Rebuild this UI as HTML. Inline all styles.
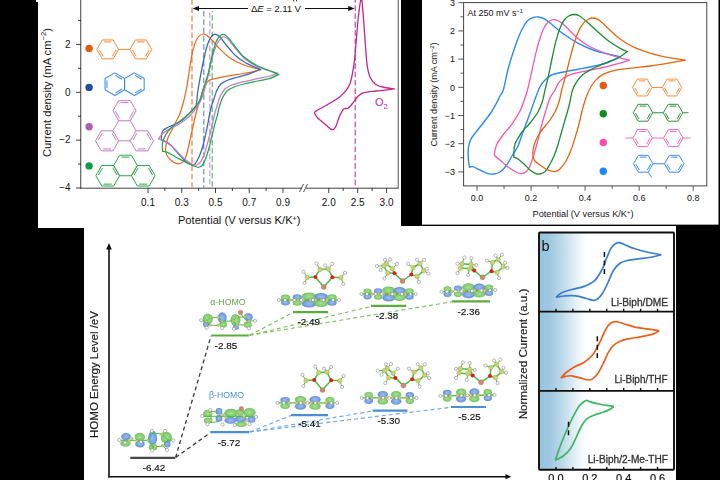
<!DOCTYPE html>
<html><head><meta charset="utf-8"><title>figure</title>
<style>
html,body{margin:0;padding:0;background:#000;}
body{width:720px;height:480px;overflow:hidden;}
svg{display:block;font-family:"Liberation Sans",sans-serif;}
</style></head><body>
<svg width="720" height="480" viewBox="0 0 720 480">
<defs>
<clipPath id="cTL"><rect x="36" y="0" width="365" height="228"/></clipPath>
<linearGradient id="gradb" x1="0" x2="1" y1="0" y2="0">
<stop offset="0" stop-color="#94C2DD"/><stop offset="0.08" stop-color="#9FC9E1"/><stop offset="0.18" stop-color="#C0DBEB"/><stop offset="0.27" stop-color="#E4F0F7"/><stop offset="0.35" stop-color="#ffffff"/><stop offset="1" stop-color="#ffffff"/>
</linearGradient>
<radialGradient id="gG" cx="0.5" cy="0.5" r="0.5"><stop offset="0" stop-color="#A4DE92"/><stop offset="0.6" stop-color="#84CE6E"/><stop offset="1" stop-color="#68BF52"/></radialGradient>
<radialGradient id="gB" cx="0.5" cy="0.5" r="0.5"><stop offset="0" stop-color="#98BCF0"/><stop offset="0.6" stop-color="#769FE2"/><stop offset="1" stop-color="#5C88D2"/></radialGradient>
<filter id="soft" x="-5%" y="-5%" width="110%" height="110%"><feGaussianBlur stdDeviation="0.45"/></filter>
<filter id="soft2" x="-5%" y="-5%" width="110%" height="110%"><feGaussianBlur stdDeviation="0.3"/></filter>
</defs>
<rect x="0" y="0" width="720" height="480" fill="#000"/>
<rect x="36" y="0" width="365" height="2" fill="#fff"/>
<rect x="38" y="0" width="363" height="228" fill="#fff"/>
<rect x="422" y="0" width="296.7" height="224.8" fill="#fff"/>
<rect x="84" y="226" width="592" height="254" fill="#fff"/>
<rect x="84" y="225.8" width="317" height="3" fill="#fff"/>
<g clip-path="url(#cTL)"><line x1="80.75" y1="0.00" x2="80.75" y2="188.60" stroke="#2a2a2a" stroke-width="0.9" />
<line x1="80.30" y1="188.20" x2="302.00" y2="188.20" stroke="#2a2a2a" stroke-width="0.9" />
<line x1="306.00" y1="188.20" x2="398.50" y2="188.20" stroke="#2a2a2a" stroke-width="0.9" />
<line x1="398.20" y1="0.00" x2="398.20" y2="188.40" stroke="#555" stroke-width="1.0" />
<line x1="299.50" y1="192.00" x2="303.50" y2="184.00" stroke="#2a2a2a" stroke-width="0.8" />
<line x1="303.50" y1="192.00" x2="307.50" y2="184.00" stroke="#2a2a2a" stroke-width="0.8" />
<line x1="76.00" y1="188.02" x2="81.00" y2="188.02" stroke="#2a2a2a" stroke-width="0.9" />
<text x="70.60" y="191.32" font-size="10" fill="#141414" text-anchor="end" >−4</text>
<line x1="78.00" y1="164.09" x2="81.00" y2="164.09" stroke="#2a2a2a" stroke-width="0.9" />
<line x1="76.00" y1="140.16" x2="81.00" y2="140.16" stroke="#2a2a2a" stroke-width="0.9" />
<text x="70.60" y="143.46" font-size="10" fill="#141414" text-anchor="end" >−2</text>
<line x1="78.00" y1="116.23" x2="81.00" y2="116.23" stroke="#2a2a2a" stroke-width="0.9" />
<line x1="76.00" y1="92.30" x2="81.00" y2="92.30" stroke="#2a2a2a" stroke-width="0.9" />
<text x="70.60" y="95.60" font-size="10" fill="#141414" text-anchor="end" >0</text>
<line x1="78.00" y1="68.37" x2="81.00" y2="68.37" stroke="#2a2a2a" stroke-width="0.9" />
<line x1="76.00" y1="44.44" x2="81.00" y2="44.44" stroke="#2a2a2a" stroke-width="0.9" />
<text x="70.60" y="47.74" font-size="10" fill="#141414" text-anchor="end" >2</text>
<line x1="78.00" y1="20.51" x2="81.00" y2="20.51" stroke="#2a2a2a" stroke-width="0.9" />
<line x1="148.00" y1="188.00" x2="148.00" y2="193.00" stroke="#2a2a2a" stroke-width="0.9" />
<text x="148.00" y="206.00" font-size="10" fill="#141414" text-anchor="middle" >0.1</text>
<line x1="164.88" y1="188.00" x2="164.88" y2="191.00" stroke="#2a2a2a" stroke-width="0.9" />
<line x1="181.75" y1="188.00" x2="181.75" y2="193.00" stroke="#2a2a2a" stroke-width="0.9" />
<text x="181.75" y="206.00" font-size="10" fill="#141414" text-anchor="middle" >0.3</text>
<line x1="198.62" y1="188.00" x2="198.62" y2="191.00" stroke="#2a2a2a" stroke-width="0.9" />
<line x1="215.50" y1="188.00" x2="215.50" y2="193.00" stroke="#2a2a2a" stroke-width="0.9" />
<text x="215.50" y="206.00" font-size="10" fill="#141414" text-anchor="middle" >0.5</text>
<line x1="232.38" y1="188.00" x2="232.38" y2="191.00" stroke="#2a2a2a" stroke-width="0.9" />
<line x1="249.25" y1="188.00" x2="249.25" y2="193.00" stroke="#2a2a2a" stroke-width="0.9" />
<text x="249.25" y="206.00" font-size="10" fill="#141414" text-anchor="middle" >0.7</text>
<line x1="266.12" y1="188.00" x2="266.12" y2="191.00" stroke="#2a2a2a" stroke-width="0.9" />
<line x1="283.00" y1="188.00" x2="283.00" y2="193.00" stroke="#2a2a2a" stroke-width="0.9" />
<text x="283.00" y="206.00" font-size="10" fill="#141414" text-anchor="middle" >0.9</text>
<line x1="328.75" y1="188.00" x2="328.75" y2="193.00" stroke="#2a2a2a" stroke-width="0.9" />
<text x="328.75" y="206.00" font-size="10" fill="#141414" text-anchor="middle" >2.0</text>
<line x1="357.65" y1="188.00" x2="357.65" y2="193.00" stroke="#2a2a2a" stroke-width="0.9" />
<text x="357.65" y="206.00" font-size="10" fill="#141414" text-anchor="middle" >2.5</text>
<line x1="386.55" y1="188.00" x2="386.55" y2="193.00" stroke="#2a2a2a" stroke-width="0.9" />
<text x="386.55" y="206.00" font-size="10" fill="#141414" text-anchor="middle" >3.0</text>
<line x1="343.20" y1="188.00" x2="343.20" y2="191.00" stroke="#2a2a2a" stroke-width="0.9" />
<line x1="372.10" y1="188.00" x2="372.10" y2="191.00" stroke="#2a2a2a" stroke-width="0.9" />
<text x="239.20" y="224.00" font-size="11" fill="#141414" text-anchor="middle" textLength="122.5" lengthAdjust="spacingAndGlyphs" >Potential (V versus K/K<tspan font-size="7" dy="-3.5">+</tspan><tspan dy="3.5">)</tspan></text>
<text x="51.00" y="92.60" font-size="11" fill="#141414" text-anchor="middle" transform="rotate(-90 51.00 92.60)" textLength="129.0" lengthAdjust="spacingAndGlyphs" >Current density (mA cm<tspan font-size="7.5" dy="-4.6">−2</tspan><tspan dy="4.6">)</tspan></text>
<line x1="192.00" y1="0.00" x2="192.00" y2="188.00" stroke="#F0702C" stroke-width="1.1" stroke-dasharray="5.6,2.71" stroke-dashoffset="0.81"/>
<line x1="203.80" y1="11.00" x2="203.80" y2="188.00" stroke="#5C84CC" stroke-width="1.1" stroke-dasharray="5.6,2.71" stroke-dashoffset="0"/>
<line x1="209.80" y1="11.00" x2="209.80" y2="188.00" stroke="#CB92CE" stroke-width="1.1" stroke-dasharray="5.6,2.71" stroke-dashoffset="6.81"/>
<line x1="212.20" y1="11.00" x2="212.20" y2="188.00" stroke="#4CB46E" stroke-width="1.1" stroke-dasharray="5.6,2.71" stroke-dashoffset="4.25"/>
<line x1="355.20" y1="0.00" x2="355.20" y2="188.00" stroke="#C83494" stroke-width="1.1" stroke-dasharray="5.6,2.71" stroke-dashoffset="3.12"/>
<line x1="195.00" y1="8.50" x2="248.00" y2="8.50" stroke="#111" stroke-width="1.0" />
<line x1="305.00" y1="8.50" x2="352.00" y2="8.50" stroke="#111" stroke-width="1.0" />
<path d="M192.6,8.5 L199,6 L199,11 Z" fill="#111"/>
<path d="M354.6,8.5 L348.2,6 L348.2,11 Z" fill="#111"/>
<text x="251" y="12" font-size="9.7" fill="#141414" textLength="50" lengthAdjust="spacing">Δ<tspan font-style="italic">E</tspan> = 2.11 V</text>
<rect x="293" y="0" width="1.2" height="1.3" fill="#444"/><rect x="296" y="0" width="1.2" height="1.3" fill="#444"/>
<path d="M261.00,69.60C259.17,70.07 253.83,71.60 250.00,72.40C246.17,73.20 242.00,73.73 238.00,74.40C234.00,75.07 229.67,75.73 226.00,76.40C222.33,77.07 218.67,77.80 216.00,78.40C213.33,79.00 211.67,79.13 210.00,80.00C208.33,80.87 207.17,81.93 206.00,83.60C204.83,85.27 204.00,87.27 203.00,90.00C202.00,92.73 200.83,97.33 200.00,100.00C199.17,102.67 198.73,103.50 198.00,106.00C197.27,108.50 196.52,111.21 195.60,115.00C194.68,118.79 193.43,124.58 192.50,128.75C191.57,132.92 190.83,136.25 190.00,140.00C189.17,143.75 188.23,148.33 187.50,151.25C186.77,154.17 186.33,155.72 185.60,157.50C184.87,159.28 184.13,160.86 183.10,161.90C182.07,162.94 180.65,163.55 179.40,163.75C178.15,163.95 176.96,163.62 175.60,163.10C174.24,162.57 172.60,161.74 171.25,160.60C169.90,159.46 168.44,157.81 167.50,156.25C166.56,154.69 165.85,153.12 165.60,151.25C165.35,149.38 165.58,147.29 166.00,145.00C166.42,142.71 167.12,140.00 168.10,137.50C169.08,135.00 170.54,132.71 171.90,130.00C173.26,127.29 175.00,123.75 176.25,121.25C177.50,118.75 178.49,117.21 179.40,115.00C180.31,112.79 180.93,110.50 181.70,108.00C182.47,105.50 183.12,103.67 184.00,100.00C184.88,96.33 186.00,91.67 187.00,86.00C188.00,80.33 189.00,72.00 190.00,66.00C191.00,60.00 191.83,54.50 193.00,50.00C194.17,45.50 195.33,41.67 197.00,39.00C198.67,36.33 200.83,34.17 203.00,34.00C205.17,33.83 207.50,35.83 210.00,38.00C212.50,40.17 214.67,43.67 218.00,47.00C221.33,50.33 225.67,55.00 230.00,58.00C234.33,61.00 238.83,63.07 244.00,65.00C249.17,66.93 258.17,68.83 261.00,69.60Z" fill="none" stroke="#EE6A1C" stroke-width="1.25" stroke-linejoin="miter" stroke-miterlimit="2.5" stroke-linecap="round" />
<path d="M260.00,69.40C258.33,70.10 253.67,72.33 250.00,73.60C246.33,74.87 241.67,75.93 238.00,77.00C234.33,78.07 230.83,78.83 228.00,80.00C225.17,81.17 222.83,82.33 221.00,84.00C219.17,85.67 218.23,87.33 217.00,90.00C215.77,92.67 214.52,97.33 213.60,100.00C212.68,102.67 212.20,103.50 211.50,106.00C210.80,108.50 209.97,112.25 209.40,115.00C208.83,117.75 208.83,118.75 208.10,122.50C207.37,126.25 206.14,132.71 205.00,137.50C203.86,142.29 202.50,147.50 201.25,151.25C200.00,155.00 198.64,157.81 197.50,160.00C196.36,162.19 195.44,163.61 194.40,164.40C193.36,165.19 192.61,165.17 191.25,164.75C189.89,164.33 187.92,163.21 186.25,161.90C184.58,160.59 182.92,158.68 181.25,156.90C179.58,155.12 177.92,153.13 176.25,151.25C174.58,149.37 172.92,147.16 171.25,145.60C169.58,144.04 167.81,142.83 166.25,141.90C164.69,140.97 162.73,140.63 161.90,140.00C161.07,139.37 161.36,138.42 161.25,138.10C161.46,136.96 161.46,133.02 162.50,131.25C163.54,129.48 165.42,128.64 167.50,127.50C169.58,126.36 172.50,125.65 175.00,124.40C177.50,123.15 180.42,121.57 182.50,120.00C184.58,118.43 185.92,116.58 187.50,115.00C189.08,113.42 190.58,112.00 192.00,110.50C193.42,109.00 195.00,109.42 196.00,106.00C197.00,102.58 196.93,96.67 198.00,90.00C199.07,83.33 200.90,73.33 202.40,66.00C203.90,58.67 205.57,50.83 207.00,46.00C208.43,41.17 209.67,39.00 211.00,37.00C212.33,35.00 213.50,34.00 215.00,34.00C216.50,34.00 218.00,35.00 220.00,37.00C222.00,39.00 224.33,42.83 227.00,46.00C229.67,49.17 232.83,53.17 236.00,56.00C239.17,58.83 242.00,60.77 246.00,63.00C250.00,65.23 257.67,68.33 260.00,69.40Z" fill="none" stroke="#3A66B8" stroke-width="1.25" stroke-linejoin="miter" stroke-miterlimit="2.5" stroke-linecap="round" />
<path d="M278.00,73.20C276.67,73.67 273.33,75.10 270.00,76.00C266.67,76.90 262.33,77.67 258.00,78.60C253.67,79.53 248.33,80.53 244.00,81.60C239.67,82.67 235.17,83.77 232.00,85.00C228.83,86.23 226.93,87.17 225.00,89.00C223.07,90.83 221.73,93.17 220.40,96.00C219.07,98.83 218.00,102.83 217.00,106.00C216.00,109.17 215.25,111.62 214.40,115.00C213.55,118.38 212.95,121.88 211.90,126.25C210.85,130.62 209.35,136.67 208.10,141.25C206.85,145.83 205.65,150.31 204.40,153.75C203.15,157.19 201.85,160.03 200.60,161.90C199.35,163.78 198.25,164.58 196.90,165.00C195.55,165.42 194.07,165.03 192.50,164.40C190.93,163.78 189.17,162.50 187.50,161.25C185.83,160.00 184.17,158.46 182.50,156.90C180.83,155.34 179.17,153.57 177.50,151.90C175.83,150.23 174.17,148.37 172.50,146.90C170.83,145.43 169.17,144.15 167.50,143.10C165.83,142.05 164.00,141.32 162.50,140.60C161.00,139.88 159.17,139.06 158.50,138.75C159.17,137.92 160.79,135.31 162.50,133.75C164.21,132.19 166.25,130.86 168.75,129.40C171.25,127.94 174.79,126.57 177.50,125.00C180.21,123.43 182.82,121.67 185.00,120.00C187.18,118.33 189.10,116.50 190.60,115.00C192.10,113.50 192.93,112.33 194.00,111.00C195.07,109.67 195.83,108.83 197.00,107.00C198.17,105.17 199.67,103.17 201.00,100.00C202.33,96.83 203.67,92.67 205.00,88.00C206.33,83.33 207.67,77.50 209.00,72.00C210.33,66.50 211.67,59.67 213.00,55.00C214.33,50.33 215.67,46.75 217.00,44.00C218.33,41.25 219.83,39.67 221.00,38.50C222.17,37.33 222.83,36.92 224.00,37.00C225.17,37.08 226.33,37.42 228.00,39.00C229.67,40.58 231.33,43.33 234.00,46.50C236.67,49.67 240.00,54.58 244.00,58.00C248.00,61.42 253.67,64.83 258.00,67.00C262.33,69.17 266.67,69.97 270.00,71.00C273.33,72.03 276.67,72.83 278.00,73.20Z" fill="none" stroke="#C27FC4" stroke-width="1.25" stroke-linejoin="miter" stroke-miterlimit="2.5" stroke-linecap="round" />
<path d="M278.50,74.60C277.08,75.23 273.42,77.33 270.00,78.40C266.58,79.47 262.33,80.07 258.00,81.00C253.67,81.93 248.00,83.00 244.00,84.00C240.00,85.00 236.83,85.83 234.00,87.00C231.17,88.17 228.93,89.17 227.00,91.00C225.07,92.83 223.73,95.17 222.40,98.00C221.07,100.83 219.82,105.17 219.00,108.00C218.18,110.83 218.07,112.79 217.50,115.00C216.93,117.21 216.43,118.12 215.60,121.25C214.77,124.38 213.64,129.17 212.50,133.75C211.36,138.33 209.90,144.58 208.75,148.75C207.60,152.92 206.64,156.04 205.60,158.75C204.56,161.46 203.64,163.58 202.50,165.00C201.36,166.42 200.21,167.08 198.75,167.25C197.29,167.42 195.62,166.69 193.75,166.00C191.88,165.31 189.79,164.20 187.50,163.10C185.21,162.00 182.50,160.75 180.00,159.40C177.50,158.05 174.79,156.27 172.50,155.00C170.21,153.73 167.90,152.42 166.25,151.80C164.60,151.18 163.21,151.38 162.60,151.30C162.58,150.04 162.20,146.05 162.50,143.75C162.80,141.45 163.47,139.58 164.40,137.50C165.33,135.42 166.54,133.23 168.10,131.25C169.66,129.27 171.56,127.47 173.75,125.60C175.94,123.72 178.96,121.77 181.25,120.00C183.54,118.23 185.79,116.50 187.50,115.00C189.21,113.50 190.25,112.33 191.50,111.00C192.75,109.67 193.58,108.83 195.00,107.00C196.42,105.17 198.67,102.83 200.00,100.00C201.33,97.17 201.67,94.33 203.00,90.00C204.33,85.67 206.50,79.67 208.00,74.00C209.50,68.33 210.67,61.33 212.00,56.00C213.33,50.67 214.67,45.33 216.00,42.00C217.33,38.67 218.83,37.27 220.00,36.00C221.17,34.73 221.83,34.33 223.00,34.40C224.17,34.47 225.17,34.63 227.00,36.40C228.83,38.17 231.17,41.57 234.00,45.00C236.83,48.43 240.00,53.50 244.00,57.00C248.00,60.50 253.33,63.57 258.00,66.00C262.67,68.43 268.58,70.17 272.00,71.60C275.42,73.03 277.42,74.10 278.50,74.60Z" fill="none" stroke="#27A455" stroke-width="1.25" stroke-linejoin="miter" stroke-miterlimit="2.5" stroke-linecap="round" />
<path d="M394.80,88.80C393.08,88.58 387.67,88.22 384.50,87.50C381.33,86.78 378.22,86.25 375.80,84.50C373.38,82.75 371.47,80.42 370.00,77.00C368.53,73.58 367.88,71.00 367.00,64.00C366.12,57.00 365.42,44.22 364.70,35.00C363.98,25.78 363.28,14.87 362.70,8.70C362.12,2.53 361.93,-3.47 361.20,-2.00C360.47,-0.53 359.17,9.88 358.30,17.50C357.43,25.12 356.72,35.95 356.00,43.70C355.28,51.45 355.07,57.18 354.00,64.00C352.93,70.82 351.80,79.27 349.60,84.60C347.40,89.93 344.73,92.52 340.80,96.00C336.87,99.48 329.88,103.13 326.00,105.50C322.12,107.87 319.38,109.08 317.50,110.20C315.62,111.32 315.07,111.47 314.70,112.20C314.33,112.93 314.78,113.63 315.30,114.60C315.82,115.57 316.02,116.27 317.80,118.00C319.58,119.73 323.63,123.05 326.00,125.00C328.37,126.95 330.40,129.37 332.00,129.70C333.60,130.03 334.37,129.18 335.60,127.00C336.83,124.82 338.05,119.60 339.40,116.60C340.75,113.60 342.27,110.38 343.70,109.00C345.13,107.62 346.53,109.22 348.00,108.30C349.47,107.38 350.78,105.55 352.50,103.50C354.22,101.45 356.38,97.80 358.30,96.00C360.22,94.20 361.08,93.53 364.00,92.70C366.92,91.87 371.88,91.48 375.80,91.00C379.72,90.52 384.33,90.17 387.50,89.80C390.67,89.43 393.58,88.97 394.80,88.80Z" fill="none" stroke="#C4268E" stroke-width="1.3" stroke-linejoin="miter" stroke-miterlimit="2.5" stroke-linecap="round" />
<text x="375.00" y="106.00" font-size="11" fill="#C4268E" text-anchor="start" >O<tspan font-size="7.5" dy="2.5">2</tspan></text>
<circle cx="89.10" cy="48.40" r="3.70" fill="#E8590C"/>
<circle cx="89.10" cy="87.40" r="3.70" fill="#1F4E9C"/>
<circle cx="89.10" cy="126.70" r="3.70" fill="#B05CB0"/>
<circle cx="89.10" cy="165.90" r="3.70" fill="#109B47"/>
<path d="M118.60,49.40L113.15,58.84L102.25,58.84L96.80,49.40L102.25,39.96L113.15,39.96Z" fill="none" stroke="#F58A33" stroke-width="1.0" stroke-linejoin="round"/>
<line x1="116.08" y1="49.96" x2="112.38" y2="56.38" stroke="#F58A33" stroke-width="1.0" />
<line x1="103.02" y1="56.38" x2="99.32" y2="49.96" stroke="#F58A33" stroke-width="1.0" />
<line x1="103.99" y1="41.86" x2="111.41" y2="41.86" stroke="#F58A33" stroke-width="1.0" />
<path d="M151.75,49.40L146.30,58.84L135.40,58.84L129.95,49.40L135.40,39.96L146.30,39.96Z" fill="none" stroke="#F58A33" stroke-width="1.0" stroke-linejoin="round"/>
<line x1="149.23" y1="49.96" x2="145.53" y2="56.38" stroke="#F58A33" stroke-width="1.0" />
<line x1="136.17" y1="56.38" x2="132.47" y2="49.96" stroke="#F58A33" stroke-width="1.0" />
<line x1="137.14" y1="41.86" x2="144.56" y2="41.86" stroke="#F58A33" stroke-width="1.0" />
<line x1="118.60" y1="49.40" x2="129.95" y2="49.40" stroke="#F58A33" stroke-width="1.0" />
<path d="M124.60,89.80L114.81,95.45L105.03,89.80L105.03,78.50L114.81,72.85L124.60,78.50Z" fill="none" stroke="#3B8FF5" stroke-width="1.05" stroke-linejoin="round"/>
<line x1="122.08" y1="89.06" x2="115.43" y2="92.90" stroke="#3B8FF5" stroke-width="1.05" />
<line x1="106.93" y1="87.99" x2="106.93" y2="80.31" stroke="#3B8FF5" stroke-width="1.05" />
<line x1="115.43" y1="75.40" x2="122.08" y2="79.24" stroke="#3B8FF5" stroke-width="1.05" />
<path d="M144.17,89.80L134.39,95.45L124.60,89.80L124.60,78.50L134.39,72.85L144.17,78.50Z" fill="none" stroke="#3B8FF5" stroke-width="1.05" stroke-linejoin="round"/>
<line x1="141.66" y1="89.06" x2="135.00" y2="92.90" stroke="#3B8FF5" stroke-width="1.05" />
<line x1="135.00" y1="75.40" x2="141.66" y2="79.24" stroke="#3B8FF5" stroke-width="1.05" />
<path d="M136.10,110.70L130.30,120.75L118.70,120.75L112.90,110.70L118.70,100.65L130.30,100.65Z" fill="none" stroke="#C47CC4" stroke-width="1.0" stroke-linejoin="round"/>
<line x1="133.53" y1="111.36" x2="129.58" y2="118.19" stroke="#C47CC4" stroke-width="1.0" />
<line x1="119.42" y1="118.19" x2="115.47" y2="111.36" stroke="#C47CC4" stroke-width="1.0" />
<line x1="120.56" y1="102.55" x2="128.44" y2="102.55" stroke="#C47CC4" stroke-width="1.0" />
<path d="M118.70,140.84L112.90,150.88L101.30,150.88L95.50,140.84L101.30,130.79L112.90,130.79Z" fill="none" stroke="#C47CC4" stroke-width="1.0" stroke-linejoin="round"/>
<line x1="111.04" y1="148.98" x2="103.16" y2="148.98" stroke="#C47CC4" stroke-width="1.0" />
<line x1="98.07" y1="140.18" x2="102.02" y2="133.35" stroke="#C47CC4" stroke-width="1.0" />
<line x1="112.18" y1="133.35" x2="116.13" y2="140.18" stroke="#C47CC4" stroke-width="1.0" />
<path d="M153.50,140.84L147.70,150.88L136.10,150.88L130.30,140.84L136.10,130.79L147.70,130.79Z" fill="none" stroke="#C47CC4" stroke-width="1.0" stroke-linejoin="round"/>
<line x1="145.84" y1="148.98" x2="137.96" y2="148.98" stroke="#C47CC4" stroke-width="1.0" />
<line x1="132.87" y1="140.18" x2="136.82" y2="133.35" stroke="#C47CC4" stroke-width="1.0" />
<line x1="146.98" y1="133.35" x2="150.93" y2="140.18" stroke="#C47CC4" stroke-width="1.0" />
<line x1="118.70" y1="120.75" x2="112.90" y2="130.79" stroke="#C47CC4" stroke-width="1.0" />
<line x1="130.30" y1="120.75" x2="136.10" y2="130.79" stroke="#C47CC4" stroke-width="1.0" />
<line x1="118.70" y1="140.84" x2="130.30" y2="140.84" stroke="#C47CC4" stroke-width="1.0" />
<path d="M137.35,165.50L131.43,175.76L119.58,175.76L113.65,165.50L119.57,155.24L131.43,155.24Z" fill="none" stroke="#2FA851" stroke-width="1.0" stroke-linejoin="round"/>
<line x1="121.47" y1="157.14" x2="129.53" y2="157.14" stroke="#2FA851" stroke-width="1.0" />
<path d="M119.57,175.76L113.65,186.02L101.80,186.02L95.88,175.76L101.80,165.50L113.65,165.50Z" fill="none" stroke="#2FA851" stroke-width="1.0" stroke-linejoin="round"/>
<line x1="111.75" y1="184.12" x2="103.70" y2="184.12" stroke="#2FA851" stroke-width="1.0" />
<line x1="98.47" y1="175.07" x2="102.50" y2="168.09" stroke="#2FA851" stroke-width="1.0" />
<line x1="112.95" y1="168.09" x2="116.98" y2="175.07" stroke="#2FA851" stroke-width="1.0" />
<path d="M155.12,175.76L149.20,186.02L137.35,186.02L131.43,175.76L137.35,165.50L149.20,165.50Z" fill="none" stroke="#2FA851" stroke-width="1.0" stroke-linejoin="round"/>
<line x1="147.30" y1="184.12" x2="139.25" y2="184.12" stroke="#2FA851" stroke-width="1.0" />
<line x1="134.02" y1="175.07" x2="138.05" y2="168.09" stroke="#2FA851" stroke-width="1.0" />
<line x1="148.50" y1="168.09" x2="152.53" y2="175.07" stroke="#2FA851" stroke-width="1.0" /></g>
<rect x="463.6" y="2.6" width="243.2" height="183.3" fill="none" stroke="#444" stroke-width="1"/>
<line x1="458.30" y1="171.90" x2="463.60" y2="171.90" stroke="#444" stroke-width="0.9" />
<text x="455.00" y="175.10" font-size="9" fill="#141414" text-anchor="end" >−3</text>
<line x1="460.50" y1="157.80" x2="463.60" y2="157.80" stroke="#444" stroke-width="0.9" />
<line x1="458.30" y1="143.70" x2="463.60" y2="143.70" stroke="#444" stroke-width="0.9" />
<text x="455.00" y="146.90" font-size="9" fill="#141414" text-anchor="end" >−2</text>
<line x1="460.50" y1="129.60" x2="463.60" y2="129.60" stroke="#444" stroke-width="0.9" />
<line x1="458.30" y1="115.50" x2="463.60" y2="115.50" stroke="#444" stroke-width="0.9" />
<text x="455.00" y="118.70" font-size="9" fill="#141414" text-anchor="end" >−1</text>
<line x1="460.50" y1="101.40" x2="463.60" y2="101.40" stroke="#444" stroke-width="0.9" />
<line x1="458.30" y1="87.30" x2="463.60" y2="87.30" stroke="#444" stroke-width="0.9" />
<text x="455.00" y="90.50" font-size="9" fill="#141414" text-anchor="end" >0</text>
<line x1="460.50" y1="73.20" x2="463.60" y2="73.20" stroke="#444" stroke-width="0.9" />
<line x1="458.30" y1="59.10" x2="463.60" y2="59.10" stroke="#444" stroke-width="0.9" />
<text x="455.00" y="62.30" font-size="9" fill="#141414" text-anchor="end" >1</text>
<line x1="460.50" y1="45.00" x2="463.60" y2="45.00" stroke="#444" stroke-width="0.9" />
<line x1="458.30" y1="30.90" x2="463.60" y2="30.90" stroke="#444" stroke-width="0.9" />
<text x="455.00" y="34.10" font-size="9" fill="#141414" text-anchor="end" >2</text>
<line x1="460.50" y1="16.80" x2="463.60" y2="16.80" stroke="#444" stroke-width="0.9" />
<line x1="458.30" y1="2.70" x2="463.60" y2="2.70" stroke="#444" stroke-width="0.9" />
<text x="455.00" y="5.90" font-size="9" fill="#141414" text-anchor="end" >3</text>
<line x1="477.00" y1="186.00" x2="477.00" y2="190.80" stroke="#444" stroke-width="0.9" />
<text x="477.00" y="201.40" font-size="9" fill="#141414" text-anchor="middle" >0.0</text>
<line x1="504.02" y1="186.00" x2="504.02" y2="188.80" stroke="#444" stroke-width="0.9" />
<line x1="531.05" y1="186.00" x2="531.05" y2="190.80" stroke="#444" stroke-width="0.9" />
<text x="531.05" y="201.40" font-size="9" fill="#141414" text-anchor="middle" >0.2</text>
<line x1="558.08" y1="186.00" x2="558.08" y2="188.80" stroke="#444" stroke-width="0.9" />
<line x1="585.10" y1="186.00" x2="585.10" y2="190.80" stroke="#444" stroke-width="0.9" />
<text x="585.10" y="201.40" font-size="9" fill="#141414" text-anchor="middle" >0.4</text>
<line x1="612.12" y1="186.00" x2="612.12" y2="188.80" stroke="#444" stroke-width="0.9" />
<line x1="639.15" y1="186.00" x2="639.15" y2="190.80" stroke="#444" stroke-width="0.9" />
<text x="639.15" y="201.40" font-size="9" fill="#141414" text-anchor="middle" >0.6</text>
<line x1="666.17" y1="186.00" x2="666.17" y2="188.80" stroke="#444" stroke-width="0.9" />
<line x1="693.20" y1="186.00" x2="693.20" y2="190.80" stroke="#444" stroke-width="0.9" />
<text x="693.20" y="201.40" font-size="9" fill="#141414" text-anchor="middle" >0.8</text>
<text x="583.00" y="217.30" font-size="9.3" fill="#141414" text-anchor="middle" textLength="101.0" lengthAdjust="spacingAndGlyphs" >Potential (V versus K/K<tspan font-size="6" dy="-3">+</tspan><tspan dy="3">)</tspan></text>
<text x="437.30" y="94.50" font-size="9.3" fill="#141414" text-anchor="middle" transform="rotate(-90 437.30 94.50)" textLength="104.0" lengthAdjust="spacingAndGlyphs" >Current density (mA cm<tspan font-size="6" dy="-3">−2</tspan><tspan dy="3">)</tspan></text>
<text x="467.50" y="15.80" font-size="9.3" fill="#141414" text-anchor="start" textLength="55.5" lengthAdjust="spacingAndGlyphs" >At 250 mV s<tspan font-size="6" dy="-3.2">−1</tspan></text>
<path d="M469.60,167.20C469.40,166.00 468.60,163.20 468.40,160.00C468.20,156.80 468.05,151.33 468.40,148.00C468.75,144.67 469.73,142.00 470.50,140.00C471.27,138.00 471.42,138.17 473.00,136.00C474.58,133.83 477.17,130.67 480.00,127.00C482.83,123.33 487.42,117.67 490.00,114.00C492.58,110.33 493.83,108.00 495.50,105.00C497.17,102.00 498.70,98.50 500.00,96.00C501.30,93.50 501.92,94.62 503.30,90.00C504.68,85.38 506.35,75.52 508.30,68.30C510.25,61.08 512.77,53.08 515.00,46.70C517.23,40.32 519.62,34.32 521.70,30.00C523.78,25.68 525.57,22.88 527.50,20.80C529.43,18.72 531.50,18.13 533.30,17.50C535.10,16.87 536.35,16.72 538.30,17.00C540.25,17.28 542.50,17.73 545.00,19.20C547.50,20.67 549.97,23.17 553.30,25.80C556.63,28.43 560.83,32.08 565.00,35.00C569.17,37.92 573.58,40.80 578.30,43.30C583.02,45.80 588.57,48.27 593.30,50.00C598.03,51.73 602.15,52.57 606.70,53.70C611.25,54.83 618.28,56.28 620.60,56.80C618.28,57.83 611.25,61.42 606.70,63.00C602.15,64.58 598.03,65.27 593.30,66.30C588.57,67.33 583.30,68.25 578.30,69.20C573.30,70.15 567.73,71.03 563.30,72.00C558.87,72.97 554.75,73.67 551.70,75.00C548.65,76.33 546.95,78.05 545.00,80.00C543.05,81.95 541.83,83.03 540.00,86.70C538.17,90.37 535.83,97.12 534.00,102.00C532.17,106.88 530.83,111.00 529.00,116.00C527.17,121.00 524.83,127.00 523.00,132.00C521.17,137.00 519.83,142.00 518.00,146.00C516.17,150.00 514.00,152.67 512.00,156.00C510.00,159.33 508.00,163.33 506.00,166.00C504.00,168.67 502.00,170.67 500.00,172.00C498.00,173.33 496.00,173.73 494.00,174.00C492.00,174.27 490.33,174.27 488.00,173.60C485.67,172.93 482.50,171.17 480.00,170.00C477.50,168.83 474.73,167.07 473.00,166.60C471.27,166.13 470.17,167.10 469.60,167.20Z" fill="none" stroke="#2B8BF2" stroke-width="1.4" stroke-linejoin="miter" stroke-miterlimit="2.5" stroke-linecap="round" />
<path d="M494.40,155.60C494.43,155.00 494.17,153.93 494.60,152.00C495.03,150.07 495.60,146.83 497.00,144.00C498.40,141.17 500.50,138.33 503.00,135.00C505.50,131.67 509.17,128.00 512.00,124.00C514.83,120.00 517.83,115.33 520.00,111.00C522.17,106.67 523.75,101.50 525.00,98.00C526.25,94.50 526.38,94.38 527.50,90.00C528.62,85.62 530.32,77.82 531.70,71.70C533.08,65.58 534.42,58.87 535.80,53.30C537.18,47.73 538.60,42.60 540.00,38.30C541.40,34.00 542.67,30.33 544.20,27.50C545.73,24.67 547.53,22.60 549.20,21.30C550.87,20.00 552.53,19.70 554.20,19.70C555.87,19.70 557.12,20.00 559.20,21.30C561.28,22.60 563.78,24.80 566.70,27.50C569.62,30.20 573.10,34.45 576.70,37.50C580.30,40.55 583.87,43.30 588.30,45.80C592.73,48.30 598.02,50.50 603.30,52.50C608.58,54.50 615.58,56.52 620.00,57.80C624.42,59.08 628.17,59.80 629.80,60.20C628.17,60.70 624.42,61.98 620.00,63.20C615.58,64.42 608.85,66.23 603.30,67.50C597.75,68.77 591.97,69.68 586.70,70.80C581.43,71.92 575.60,72.95 571.70,74.20C567.80,75.45 565.53,76.78 563.30,78.30C561.07,79.82 559.68,81.35 558.30,83.30C556.92,85.25 556.38,87.55 555.00,90.00C553.62,92.45 551.50,94.67 550.00,98.00C548.50,101.33 547.33,105.67 546.00,110.00C544.67,114.33 543.33,119.00 542.00,124.00C540.67,129.00 539.33,135.00 538.00,140.00C536.67,145.00 535.33,149.67 534.00,154.00C532.67,158.33 531.33,163.00 530.00,166.00C528.67,169.00 527.50,170.73 526.00,172.00C524.50,173.27 522.67,173.60 521.00,173.60C519.33,173.60 518.17,173.10 516.00,172.00C513.83,170.90 510.67,169.00 508.00,167.00C505.33,165.00 502.27,161.90 500.00,160.00C497.73,158.10 495.33,156.33 494.40,155.60Z" fill="none" stroke="#F755AE" stroke-width="1.3" stroke-linejoin="miter" stroke-miterlimit="2.5" stroke-linecap="round" />
<path d="M513.80,157.00C513.83,155.83 513.80,152.17 514.00,150.00C514.20,147.83 514.50,145.67 515.00,144.00C515.50,142.33 515.83,142.00 517.00,140.00C518.17,138.00 519.83,134.83 522.00,132.00C524.17,129.17 527.33,126.33 530.00,123.00C532.67,119.67 535.92,115.67 538.00,112.00C540.08,108.33 541.33,104.67 542.50,101.00C543.67,97.33 544.03,94.05 545.00,90.00C545.97,85.95 547.18,81.70 548.30,76.70C549.42,71.70 550.45,65.83 551.70,60.00C552.95,54.17 554.42,46.98 555.80,41.70C557.18,36.42 558.60,31.92 560.00,28.30C561.40,24.68 562.67,22.08 564.20,20.00C565.73,17.92 567.53,16.72 569.20,15.80C570.87,14.88 572.53,14.50 574.20,14.50C575.87,14.50 577.12,14.60 579.20,15.80C581.28,17.00 583.78,19.20 586.70,21.70C589.62,24.20 593.10,27.62 596.70,30.80C600.30,33.98 604.42,37.88 608.30,40.80C612.18,43.72 616.85,46.50 620.00,48.30C623.15,50.10 626.00,51.05 627.20,51.60C626.00,52.45 623.42,54.88 620.00,56.70C616.58,58.52 611.15,60.57 606.70,62.50C602.25,64.43 597.20,66.35 593.30,68.30C589.40,70.25 586.07,71.97 583.30,74.20C580.53,76.43 578.50,79.07 576.70,81.70C574.90,84.33 573.78,85.95 572.50,90.00C571.22,94.05 570.25,101.00 569.00,106.00C567.75,111.00 566.33,115.33 565.00,120.00C563.67,124.67 562.23,129.67 561.00,134.00C559.77,138.33 558.77,142.33 557.60,146.00C556.43,149.67 555.27,153.00 554.00,156.00C552.73,159.00 551.50,161.40 550.00,164.00C548.50,166.60 546.67,169.93 545.00,171.60C543.33,173.27 541.50,173.67 540.00,174.00C538.50,174.33 537.67,174.27 536.00,173.60C534.33,172.93 532.00,171.60 530.00,170.00C528.00,168.40 526.00,165.83 524.00,164.00C522.00,162.17 519.70,160.17 518.00,159.00C516.30,157.83 514.50,157.33 513.80,157.00Z" fill="none" stroke="#1C8C30" stroke-width="1.3" stroke-linejoin="miter" stroke-miterlimit="2.5" stroke-linecap="round" />
<path d="M685.60,60.20C682.33,60.77 671.93,62.63 666.00,63.60C660.07,64.57 654.67,65.37 650.00,66.00C645.33,66.63 641.96,66.97 638.00,67.40C634.04,67.83 630.50,68.03 626.25,68.60C622.00,69.17 616.46,69.80 612.50,70.80C608.54,71.80 605.21,73.13 602.50,74.60C599.79,76.07 598.12,77.66 596.25,79.60C594.38,81.54 592.88,83.47 591.25,86.25C589.62,89.03 587.99,92.29 586.50,96.25C585.01,100.21 583.55,105.38 582.30,110.00C581.05,114.62 580.22,119.33 579.00,124.00C577.78,128.67 576.33,133.67 575.00,138.00C573.67,142.33 572.50,146.17 571.00,150.00C569.50,153.83 567.83,157.83 566.00,161.00C564.17,164.17 561.83,167.23 560.00,169.00C558.17,170.77 556.50,171.27 555.00,171.60C553.50,171.93 552.50,171.43 551.00,171.00C549.50,170.57 547.83,170.00 546.00,169.00C544.17,168.00 541.83,166.33 540.00,165.00C538.17,163.67 536.17,162.50 535.00,161.00C533.83,159.50 533.33,157.83 533.00,156.00C532.67,154.17 532.75,152.00 533.00,150.00C533.25,148.00 533.83,146.00 534.50,144.00C535.17,142.00 535.75,140.33 537.00,138.00C538.25,135.67 539.83,133.00 542.00,130.00C544.17,127.00 547.67,123.33 550.00,120.00C552.33,116.67 554.42,113.33 556.00,110.00C557.58,106.67 558.55,103.33 559.50,100.00C560.45,96.67 560.65,94.17 561.70,90.00C562.75,85.83 564.42,80.28 565.80,75.00C567.18,69.72 568.60,63.58 570.00,58.30C571.40,53.02 572.82,47.73 574.20,43.30C575.58,38.87 576.78,35.03 578.30,31.70C579.82,28.37 581.63,25.38 583.30,23.30C584.97,21.22 586.77,20.08 588.30,19.20C589.83,18.32 590.97,18.00 592.50,18.00C594.03,18.00 595.92,18.43 597.50,19.20C599.08,19.97 600.25,21.10 602.00,22.60C603.75,24.10 605.67,26.00 608.00,28.20C610.33,30.40 613.00,33.33 616.00,35.80C619.00,38.27 622.67,40.93 626.00,43.00C629.33,45.07 632.00,46.50 636.00,48.20C640.00,49.90 645.00,51.70 650.00,53.20C655.00,54.70 660.07,56.03 666.00,57.20C671.93,58.37 682.33,59.70 685.60,60.20Z" fill="none" stroke="#E6650F" stroke-width="1.3" stroke-linejoin="miter" stroke-miterlimit="2.5" stroke-linecap="round" />
<circle cx="603.30" cy="85.50" r="3.70" fill="#E8590C"/>
<circle cx="603.30" cy="113.75" r="3.70" fill="#138A1F"/>
<circle cx="603.30" cy="142.50" r="3.70" fill="#F74FAE"/>
<circle cx="603.30" cy="171.25" r="3.70" fill="#1E88F5"/>
<path d="M652.00,87.50L647.12,95.94L637.38,95.94L632.50,87.50L637.38,79.06L647.12,79.06Z" fill="none" stroke="#F5913E" stroke-width="1.0" stroke-linejoin="round"/>
<line x1="649.66" y1="87.95" x2="646.35" y2="93.69" stroke="#F5913E" stroke-width="1.0" />
<line x1="638.15" y1="93.69" x2="634.84" y2="87.95" stroke="#F5913E" stroke-width="1.0" />
<line x1="638.93" y1="80.86" x2="645.57" y2="80.86" stroke="#F5913E" stroke-width="1.0" />
<path d="M681.75,87.50L676.88,95.94L667.12,95.94L662.25,87.50L667.12,79.06L676.88,79.06Z" fill="none" stroke="#F5913E" stroke-width="1.0" stroke-linejoin="round"/>
<line x1="679.41" y1="87.95" x2="676.10" y2="93.69" stroke="#F5913E" stroke-width="1.0" />
<line x1="667.90" y1="93.69" x2="664.59" y2="87.95" stroke="#F5913E" stroke-width="1.0" />
<line x1="668.68" y1="80.86" x2="675.32" y2="80.86" stroke="#F5913E" stroke-width="1.0" />
<line x1="652.00" y1="87.50" x2="662.25" y2="87.50" stroke="#F5913E" stroke-width="1.0" />
<path d="M652.75,112.75L647.88,121.19L638.12,121.19L633.25,112.75L638.12,104.31L647.88,104.31Z" fill="none" stroke="#2D9440" stroke-width="1.0" stroke-linejoin="round"/>
<line x1="650.41" y1="113.20" x2="647.10" y2="118.94" stroke="#2D9440" stroke-width="1.0" />
<line x1="638.90" y1="118.94" x2="635.59" y2="113.20" stroke="#2D9440" stroke-width="1.0" />
<line x1="639.68" y1="106.11" x2="646.32" y2="106.11" stroke="#2D9440" stroke-width="1.0" />
<path d="M682.75,112.75L677.88,121.19L668.12,121.19L663.25,112.75L668.12,104.31L677.88,104.31Z" fill="none" stroke="#2D9440" stroke-width="1.0" stroke-linejoin="round"/>
<line x1="680.41" y1="113.20" x2="677.10" y2="118.94" stroke="#2D9440" stroke-width="1.0" />
<line x1="668.90" y1="118.94" x2="665.59" y2="113.20" stroke="#2D9440" stroke-width="1.0" />
<line x1="669.68" y1="106.11" x2="676.32" y2="106.11" stroke="#2D9440" stroke-width="1.0" />
<line x1="652.75" y1="112.75" x2="663.25" y2="112.75" stroke="#2D9440" stroke-width="1.0" />
<line x1="682.75" y1="112.75" x2="688.50" y2="112.75" stroke="#2D9440" stroke-width="1.0" />
<path d="M652.25,138.00L647.38,146.44L637.62,146.44L632.75,138.00L637.62,129.56L647.38,129.56Z" fill="none" stroke="#F86BB8" stroke-width="1.0" stroke-linejoin="round"/>
<line x1="649.91" y1="138.45" x2="646.60" y2="144.19" stroke="#F86BB8" stroke-width="1.0" />
<line x1="638.40" y1="144.19" x2="635.09" y2="138.45" stroke="#F86BB8" stroke-width="1.0" />
<line x1="639.18" y1="131.36" x2="645.82" y2="131.36" stroke="#F86BB8" stroke-width="1.0" />
<path d="M683.00,138.00L678.12,146.44L668.38,146.44L663.50,138.00L668.38,129.56L678.12,129.56Z" fill="none" stroke="#F86BB8" stroke-width="1.0" stroke-linejoin="round"/>
<line x1="680.66" y1="138.45" x2="677.35" y2="144.19" stroke="#F86BB8" stroke-width="1.0" />
<line x1="669.15" y1="144.19" x2="665.84" y2="138.45" stroke="#F86BB8" stroke-width="1.0" />
<line x1="669.93" y1="131.36" x2="676.57" y2="131.36" stroke="#F86BB8" stroke-width="1.0" />
<line x1="652.25" y1="138.00" x2="663.50" y2="138.00" stroke="#F86BB8" stroke-width="1.0" />
<line x1="683.00" y1="138.00" x2="690.50" y2="138.00" stroke="#F86BB8" stroke-width="1.0" />
<line x1="625.50" y1="138.00" x2="632.75" y2="138.00" stroke="#F86BB8" stroke-width="1.0" />
<path d="M653.00,163.75L648.12,172.19L638.38,172.19L633.50,163.75L638.38,155.31L648.12,155.31Z" fill="none" stroke="#3B8FF0" stroke-width="1.0" stroke-linejoin="round"/>
<line x1="650.66" y1="164.20" x2="647.35" y2="169.94" stroke="#3B8FF0" stroke-width="1.0" />
<line x1="639.15" y1="169.94" x2="635.84" y2="164.20" stroke="#3B8FF0" stroke-width="1.0" />
<line x1="639.93" y1="157.11" x2="646.57" y2="157.11" stroke="#3B8FF0" stroke-width="1.0" />
<path d="M684.00,163.75L679.12,172.19L669.38,172.19L664.50,163.75L669.38,155.31L679.12,155.31Z" fill="none" stroke="#3B8FF0" stroke-width="1.0" stroke-linejoin="round"/>
<line x1="681.66" y1="164.20" x2="678.35" y2="169.94" stroke="#3B8FF0" stroke-width="1.0" />
<line x1="670.15" y1="169.94" x2="666.84" y2="164.20" stroke="#3B8FF0" stroke-width="1.0" />
<line x1="670.93" y1="157.11" x2="677.57" y2="157.11" stroke="#3B8FF0" stroke-width="1.0" />
<line x1="653.00" y1="163.75" x2="664.50" y2="163.75" stroke="#3B8FF0" stroke-width="1.0" />
<line x1="648.12" y1="172.19" x2="651.80" y2="177.50" stroke="#3B8FF0" stroke-width="1.0" />
<rect x="401" y="0" width="21" height="225.8" fill="#000"/>
<rect x="401" y="224.8" width="319" height="1.1" fill="#000"/>
<rect x="718.7" y="0" width="1.3" height="226" fill="#000"/>
<g filter="url(#soft2)"><line x1="109.00" y1="247.00" x2="109.00" y2="477.40" stroke="#111" stroke-width="1.6" />
<path d="M109,243 L106.2,249.5 L111.8,249.5 Z" fill="#111"/>
<line x1="108.20" y1="476.70" x2="507.00" y2="476.70" stroke="#111" stroke-width="1.6" />
<path d="M511.2,476.7 L505.5,474.1 L505.5,479.3 Z" fill="#111"/>
<text x="97.80" y="374.50" font-size="11" fill="#1c1c1c" text-anchor="middle" transform="rotate(-90 97.80 374.50)" textLength="127.0" lengthAdjust="spacingAndGlyphs" stroke="#1c1c1c" stroke-width="0.15">HOMO Energy Level /eV</text>
<line x1="130.30" y1="457.90" x2="175.20" y2="457.90" stroke="#4A4A4A" stroke-width="2.2" />
<line x1="211.20" y1="335.50" x2="248.80" y2="335.50" stroke="#5CAB3C" stroke-width="2.2" />
<line x1="293.00" y1="312.20" x2="328.00" y2="312.20" stroke="#5CAB3C" stroke-width="2.2" />
<line x1="371.00" y1="305.80" x2="406.20" y2="305.80" stroke="#5CAB3C" stroke-width="2.2" />
<line x1="452.00" y1="301.30" x2="490.00" y2="301.30" stroke="#5CAB3C" stroke-width="2.2" />
<line x1="210.30" y1="432.20" x2="249.20" y2="432.20" stroke="#4A8FD4" stroke-width="2.2" />
<line x1="291.00" y1="415.20" x2="328.00" y2="415.20" stroke="#4A8FD4" stroke-width="2.2" />
<line x1="372.70" y1="410.70" x2="407.50" y2="410.70" stroke="#4A8FD4" stroke-width="2.2" />
<line x1="451.00" y1="407.00" x2="486.00" y2="407.00" stroke="#4A8FD4" stroke-width="2.2" />
<line x1="175.60" y1="457.40" x2="211.00" y2="336.00" stroke="#3a3a3a" stroke-width="1.3" stroke-dasharray="4,3"/>
<line x1="175.80" y1="457.40" x2="210.00" y2="433.00" stroke="#3a3a3a" stroke-width="1.3" stroke-dasharray="4,3"/>
<line x1="249.50" y1="335.30" x2="293.00" y2="312.50" stroke="#7DBE5A" stroke-width="1.1" stroke-dasharray="4,3"/>
<line x1="249.50" y1="335.30" x2="371.00" y2="306.50" stroke="#7DBE5A" stroke-width="1.1" stroke-dasharray="4,3"/>
<line x1="249.50" y1="335.30" x2="452.00" y2="301.80" stroke="#7DBE5A" stroke-width="1.1" stroke-dasharray="4,3"/>
<line x1="249.80" y1="432.00" x2="291.00" y2="415.50" stroke="#6AA6E0" stroke-width="1.1" stroke-dasharray="4,3"/>
<line x1="249.80" y1="432.00" x2="372.50" y2="411.00" stroke="#6AA6E0" stroke-width="1.1" stroke-dasharray="4,3"/>
<line x1="249.80" y1="432.00" x2="451.00" y2="407.30" stroke="#6AA6E0" stroke-width="1.1" stroke-dasharray="4,3"/>
<text x="154.00" y="471.10" font-size="9.9" fill="#141414" text-anchor="middle" stroke="#141414" stroke-width="0.15">-6.42</text>
<text x="226.00" y="349.30" font-size="9.9" fill="#141414" text-anchor="middle" stroke="#141414" stroke-width="0.15">-2.85</text>
<text x="229.00" y="445.50" font-size="9.9" fill="#141414" text-anchor="middle" stroke="#141414" stroke-width="0.15">-5.72</text>
<text x="308.80" y="324.50" font-size="9.9" fill="#141414" text-anchor="middle" stroke="#141414" stroke-width="0.15">-2.49</text>
<text x="387.00" y="318.90" font-size="9.9" fill="#141414" text-anchor="middle" stroke="#141414" stroke-width="0.15">-2.38</text>
<text x="468.80" y="314.70" font-size="9.9" fill="#141414" text-anchor="middle" stroke="#141414" stroke-width="0.15">-2.36</text>
<text x="309.50" y="427.30" font-size="9.9" fill="#141414" text-anchor="middle" stroke="#141414" stroke-width="0.15">-5.41</text>
<text x="388.80" y="424.00" font-size="9.9" fill="#141414" text-anchor="middle" stroke="#141414" stroke-width="0.15">-5.30</text>
<text x="469.40" y="420.20" font-size="9.9" fill="#141414" text-anchor="middle" stroke="#141414" stroke-width="0.15">-5.25</text>
<text x="228.00" y="304.80" font-size="8.6" fill="#64A544" text-anchor="middle" textLength="35.5" lengthAdjust="spacingAndGlyphs" >α-HOMO</text>
<text x="226.60" y="398.00" font-size="8.6" fill="#4A90D0" text-anchor="middle" textLength="35.0" lengthAdjust="spacingAndGlyphs" >β-HOMO</text>
<g filter="url(#soft)"><ellipse cx="285.48" cy="297.40" rx="4.48" ry="2.80" fill="url(#gG)" opacity="0.95"/>
<ellipse cx="285.48" cy="302.60" rx="4.48" ry="2.80" fill="url(#gB)" opacity="0.95"/>
<ellipse cx="297.24" cy="297.21" rx="4.59" ry="3.00" fill="url(#gB)" opacity="0.95"/>
<ellipse cx="297.24" cy="302.79" rx="4.59" ry="3.00" fill="url(#gG)" opacity="0.95"/>
<ellipse cx="309.00" cy="296.37" rx="7.17" ry="3.90" fill="url(#gG)" opacity="0.95"/>
<ellipse cx="309.00" cy="303.63" rx="7.17" ry="3.90" fill="url(#gB)" opacity="0.95"/>
<ellipse cx="321.04" cy="296.65" rx="6.83" ry="3.60" fill="url(#gB)" opacity="0.95"/>
<ellipse cx="321.04" cy="303.35" rx="6.83" ry="3.60" fill="url(#gG)" opacity="0.95"/>
<ellipse cx="331.96" cy="297.21" rx="4.76" ry="3.00" fill="url(#gG)" opacity="0.95"/>
<ellipse cx="331.96" cy="302.79" rx="4.76" ry="3.00" fill="url(#gB)" opacity="0.95"/>
<line x1="279.50" y1="300.00" x2="338.00" y2="300.00" stroke="#52B945" stroke-width="1.3" />
<circle cx="290.52" cy="300.00" r="1.35" fill="#CDD273" stroke="#8FA24A" stroke-width="0.4"/>
<circle cx="297.80" cy="300.00" r="1.35" fill="#CDD273" stroke="#8FA24A" stroke-width="0.4"/>
<circle cx="303.40" cy="300.00" r="1.35" fill="#CDD273" stroke="#8FA24A" stroke-width="0.4"/>
<circle cx="310.12" cy="300.00" r="1.35" fill="#CDD273" stroke="#8FA24A" stroke-width="0.4"/>
<circle cx="315.72" cy="300.00" r="1.35" fill="#CDD273" stroke="#8FA24A" stroke-width="0.4"/>
<circle cx="321.32" cy="300.00" r="1.35" fill="#CDD273" stroke="#8FA24A" stroke-width="0.4"/>
<circle cx="327.48" cy="300.00" r="1.35" fill="#CDD273" stroke="#8FA24A" stroke-width="0.4"/>
<circle cx="278.76" cy="300.00" r="1.55" fill="#ffffff" stroke="#8a8a8a" stroke-width="0.6"/>
<circle cx="284.92" cy="300.00" r="1.55" fill="#ffffff" stroke="#8a8a8a" stroke-width="0.6"/>
<circle cx="294.44" cy="300.00" r="1.55" fill="#ffffff" stroke="#8a8a8a" stroke-width="0.6"/>
<circle cx="301.16" cy="300.00" r="1.55" fill="#ffffff" stroke="#8a8a8a" stroke-width="0.6"/>
<circle cx="312.92" cy="300.00" r="1.55" fill="#ffffff" stroke="#8a8a8a" stroke-width="0.6"/>
<circle cx="323.56" cy="300.00" r="1.55" fill="#ffffff" stroke="#8a8a8a" stroke-width="0.6"/>
<circle cx="333.08" cy="300.00" r="1.55" fill="#ffffff" stroke="#8a8a8a" stroke-width="0.6"/>
<circle cx="338.96" cy="300.00" r="1.55" fill="#ffffff" stroke="#8a8a8a" stroke-width="0.6"/>
<line x1="323.75" y1="286.90" x2="315.45" y2="276.90" stroke="#46BE46" stroke-width="1.5" />
<line x1="323.75" y1="286.90" x2="332.35" y2="277.20" stroke="#46BE46" stroke-width="1.5" />
<line x1="315.45" y1="276.90" x2="320.00" y2="269.40" stroke="#46BE46" stroke-width="1.5" />
<line x1="320.00" y1="269.40" x2="328.35" y2="269.10" stroke="#46BE46" stroke-width="1.5" />
<line x1="328.35" y1="269.10" x2="332.35" y2="277.20" stroke="#46BE46" stroke-width="1.5" />
<line x1="315.45" y1="276.90" x2="307.25" y2="277.40" stroke="#46BE46" stroke-width="1.5" />
<line x1="332.35" y1="277.20" x2="340.95" y2="277.70" stroke="#46BE46" stroke-width="1.5" />
<line x1="316.45" y1="263.40" x2="320.00" y2="269.40" stroke="#46BE46" stroke-width="1.0" />
<line x1="332.35" y1="263.90" x2="328.35" y2="269.10" stroke="#46BE46" stroke-width="1.0" />
<line x1="303.75" y1="271.90" x2="307.25" y2="277.40" stroke="#46BE46" stroke-width="1.0" />
<line x1="304.55" y1="283.00" x2="307.25" y2="277.40" stroke="#46BE46" stroke-width="1.0" />
<line x1="345.00" y1="272.90" x2="340.95" y2="277.70" stroke="#46BE46" stroke-width="1.0" />
<line x1="343.35" y1="283.90" x2="340.95" y2="277.70" stroke="#46BE46" stroke-width="1.0" />
<line x1="325.25" y1="265.40" x2="328.35" y2="269.10" stroke="#46BE46" stroke-width="1.0" />
<circle cx="316.45" cy="263.40" r="1.60" fill="#ffffff" stroke="#8a8a8a" stroke-width="0.6"/>
<circle cx="332.35" cy="263.90" r="1.60" fill="#ffffff" stroke="#8a8a8a" stroke-width="0.6"/>
<circle cx="303.75" cy="271.90" r="1.60" fill="#ffffff" stroke="#8a8a8a" stroke-width="0.6"/>
<circle cx="304.55" cy="283.00" r="1.60" fill="#ffffff" stroke="#8a8a8a" stroke-width="0.6"/>
<circle cx="345.00" cy="272.90" r="1.60" fill="#ffffff" stroke="#8a8a8a" stroke-width="0.6"/>
<circle cx="343.35" cy="283.90" r="1.60" fill="#ffffff" stroke="#8a8a8a" stroke-width="0.6"/>
<circle cx="325.25" cy="265.40" r="1.60" fill="#ffffff" stroke="#8a8a8a" stroke-width="0.6"/>
<circle cx="320.00" cy="269.40" r="2.25" fill="#CDD273" stroke="#8FA24A" stroke-width="0.4"/>
<circle cx="328.35" cy="269.10" r="2.25" fill="#CDD273" stroke="#8FA24A" stroke-width="0.4"/>
<circle cx="307.25" cy="277.40" r="2.25" fill="#CDD273" stroke="#8FA24A" stroke-width="0.4"/>
<circle cx="340.95" cy="277.70" r="2.25" fill="#CDD273" stroke="#8FA24A" stroke-width="0.4"/>
<circle cx="315.45" cy="276.90" r="2.00" fill="#E31E1E"/>
<circle cx="332.35" cy="277.20" r="2.00" fill="#E31E1E"/>
<circle cx="323.75" cy="286.90" r="2.50" fill="#CB8B6F" stroke="#A66C55" stroke-width="0.4"/>
<ellipse cx="367.54" cy="291.40" rx="4.04" ry="2.80" fill="url(#gG)" opacity="0.95"/>
<ellipse cx="367.54" cy="296.60" rx="4.04" ry="2.80" fill="url(#gB)" opacity="0.95"/>
<ellipse cx="378.14" cy="291.21" rx="4.14" ry="3.00" fill="url(#gB)" opacity="0.95"/>
<ellipse cx="378.14" cy="296.79" rx="4.14" ry="3.00" fill="url(#gG)" opacity="0.95"/>
<ellipse cx="388.75" cy="290.37" rx="6.46" ry="3.90" fill="url(#gG)" opacity="0.95"/>
<ellipse cx="388.75" cy="297.63" rx="6.46" ry="3.90" fill="url(#gB)" opacity="0.95"/>
<ellipse cx="399.61" cy="290.65" rx="6.16" ry="3.60" fill="url(#gB)" opacity="0.95"/>
<ellipse cx="399.61" cy="297.35" rx="6.16" ry="3.60" fill="url(#gG)" opacity="0.95"/>
<ellipse cx="409.45" cy="291.21" rx="4.29" ry="3.00" fill="url(#gG)" opacity="0.95"/>
<ellipse cx="409.45" cy="296.79" rx="4.29" ry="3.00" fill="url(#gB)" opacity="0.95"/>
<line x1="362.00" y1="294.00" x2="415.00" y2="294.00" stroke="#52B945" stroke-width="1.3" />
<circle cx="372.08" cy="294.00" r="1.35" fill="#CDD273" stroke="#8FA24A" stroke-width="0.4"/>
<circle cx="378.65" cy="294.00" r="1.35" fill="#CDD273" stroke="#8FA24A" stroke-width="0.4"/>
<circle cx="383.70" cy="294.00" r="1.35" fill="#CDD273" stroke="#8FA24A" stroke-width="0.4"/>
<circle cx="389.76" cy="294.00" r="1.35" fill="#CDD273" stroke="#8FA24A" stroke-width="0.4"/>
<circle cx="394.81" cy="294.00" r="1.35" fill="#CDD273" stroke="#8FA24A" stroke-width="0.4"/>
<circle cx="399.86" cy="294.00" r="1.35" fill="#CDD273" stroke="#8FA24A" stroke-width="0.4"/>
<circle cx="405.42" cy="294.00" r="1.35" fill="#CDD273" stroke="#8FA24A" stroke-width="0.4"/>
<circle cx="361.48" cy="294.00" r="1.55" fill="#ffffff" stroke="#8a8a8a" stroke-width="0.6"/>
<circle cx="367.04" cy="294.00" r="1.55" fill="#ffffff" stroke="#8a8a8a" stroke-width="0.6"/>
<circle cx="375.62" cy="294.00" r="1.55" fill="#ffffff" stroke="#8a8a8a" stroke-width="0.6"/>
<circle cx="381.68" cy="294.00" r="1.55" fill="#ffffff" stroke="#8a8a8a" stroke-width="0.6"/>
<circle cx="392.28" cy="294.00" r="1.55" fill="#ffffff" stroke="#8a8a8a" stroke-width="0.6"/>
<circle cx="401.88" cy="294.00" r="1.55" fill="#ffffff" stroke="#8a8a8a" stroke-width="0.6"/>
<circle cx="410.47" cy="294.00" r="1.55" fill="#ffffff" stroke="#8a8a8a" stroke-width="0.6"/>
<circle cx="415.77" cy="294.00" r="1.55" fill="#ffffff" stroke="#8a8a8a" stroke-width="0.6"/>
<line x1="402.50" y1="281.00" x2="394.50" y2="273.30" stroke="#46BE46" stroke-width="1.5" />
<line x1="402.50" y1="281.00" x2="411.30" y2="274.60" stroke="#46BE46" stroke-width="1.5" />
<line x1="394.50" y1="273.30" x2="392.30" y2="268.70" stroke="#46BE46" stroke-width="1.5" />
<line x1="392.30" y1="268.70" x2="386.30" y2="263.70" stroke="#46BE46" stroke-width="1.5" />
<line x1="386.30" y1="263.70" x2="383.75" y2="265.80" stroke="#46BE46" stroke-width="1.5" />
<line x1="383.75" y1="265.80" x2="387.75" y2="273.10" stroke="#46BE46" stroke-width="1.5" />
<line x1="387.75" y1="273.10" x2="394.50" y2="273.30" stroke="#46BE46" stroke-width="1.5" />
<line x1="411.30" y1="274.60" x2="413.10" y2="267.50" stroke="#46BE46" stroke-width="1.5" />
<line x1="413.10" y1="267.50" x2="420.00" y2="263.50" stroke="#46BE46" stroke-width="1.5" />
<line x1="420.00" y1="263.50" x2="423.75" y2="270.60" stroke="#46BE46" stroke-width="1.5" />
<line x1="423.75" y1="270.60" x2="417.10" y2="276.25" stroke="#46BE46" stroke-width="1.5" />
<line x1="417.10" y1="276.25" x2="411.30" y2="274.60" stroke="#46BE46" stroke-width="1.5" />
<line x1="376.90" y1="266.00" x2="383.75" y2="265.80" stroke="#46BE46" stroke-width="1.0" />
<line x1="385.00" y1="259.75" x2="386.30" y2="263.70" stroke="#46BE46" stroke-width="1.0" />
<line x1="380.60" y1="270.00" x2="383.75" y2="265.80" stroke="#46BE46" stroke-width="1.0" />
<line x1="396.90" y1="264.00" x2="392.30" y2="268.70" stroke="#46BE46" stroke-width="1.0" />
<line x1="384.40" y1="278.50" x2="387.75" y2="273.10" stroke="#46BE46" stroke-width="1.0" />
<line x1="390.00" y1="259.50" x2="386.30" y2="263.70" stroke="#46BE46" stroke-width="1.0" />
<line x1="408.10" y1="264.00" x2="413.10" y2="267.50" stroke="#46BE46" stroke-width="1.0" />
<line x1="416.90" y1="259.70" x2="420.00" y2="263.50" stroke="#46BE46" stroke-width="1.0" />
<line x1="424.00" y1="259.80" x2="420.00" y2="263.50" stroke="#46BE46" stroke-width="1.0" />
<line x1="428.30" y1="273.50" x2="423.75" y2="270.60" stroke="#46BE46" stroke-width="1.0" />
<line x1="426.90" y1="268.80" x2="423.75" y2="270.60" stroke="#46BE46" stroke-width="1.0" />
<line x1="418.75" y1="281.90" x2="417.10" y2="276.25" stroke="#46BE46" stroke-width="1.0" />
<circle cx="376.90" cy="266.00" r="1.60" fill="#ffffff" stroke="#8a8a8a" stroke-width="0.6"/>
<circle cx="385.00" cy="259.75" r="1.60" fill="#ffffff" stroke="#8a8a8a" stroke-width="0.6"/>
<circle cx="380.60" cy="270.00" r="1.60" fill="#ffffff" stroke="#8a8a8a" stroke-width="0.6"/>
<circle cx="396.90" cy="264.00" r="1.60" fill="#ffffff" stroke="#8a8a8a" stroke-width="0.6"/>
<circle cx="384.40" cy="278.50" r="1.60" fill="#ffffff" stroke="#8a8a8a" stroke-width="0.6"/>
<circle cx="390.00" cy="259.50" r="1.60" fill="#ffffff" stroke="#8a8a8a" stroke-width="0.6"/>
<circle cx="408.10" cy="264.00" r="1.60" fill="#ffffff" stroke="#8a8a8a" stroke-width="0.6"/>
<circle cx="416.90" cy="259.70" r="1.60" fill="#ffffff" stroke="#8a8a8a" stroke-width="0.6"/>
<circle cx="424.00" cy="259.80" r="1.60" fill="#ffffff" stroke="#8a8a8a" stroke-width="0.6"/>
<circle cx="428.30" cy="273.50" r="1.60" fill="#ffffff" stroke="#8a8a8a" stroke-width="0.6"/>
<circle cx="426.90" cy="268.80" r="1.60" fill="#ffffff" stroke="#8a8a8a" stroke-width="0.6"/>
<circle cx="418.75" cy="281.90" r="1.60" fill="#ffffff" stroke="#8a8a8a" stroke-width="0.6"/>
<circle cx="392.30" cy="268.70" r="2.25" fill="#CDD273" stroke="#8FA24A" stroke-width="0.4"/>
<circle cx="386.30" cy="263.70" r="2.25" fill="#CDD273" stroke="#8FA24A" stroke-width="0.4"/>
<circle cx="383.75" cy="265.80" r="2.25" fill="#CDD273" stroke="#8FA24A" stroke-width="0.4"/>
<circle cx="387.75" cy="273.10" r="2.25" fill="#CDD273" stroke="#8FA24A" stroke-width="0.4"/>
<circle cx="413.10" cy="267.50" r="2.25" fill="#CDD273" stroke="#8FA24A" stroke-width="0.4"/>
<circle cx="420.00" cy="263.50" r="2.25" fill="#CDD273" stroke="#8FA24A" stroke-width="0.4"/>
<circle cx="423.75" cy="270.60" r="2.25" fill="#CDD273" stroke="#8FA24A" stroke-width="0.4"/>
<circle cx="417.10" cy="276.25" r="2.25" fill="#CDD273" stroke="#8FA24A" stroke-width="0.4"/>
<circle cx="394.50" cy="273.30" r="2.00" fill="#E31E1E"/>
<circle cx="411.30" cy="274.60" r="2.00" fill="#E31E1E"/>
<circle cx="402.50" cy="281.00" r="2.50" fill="#CB8B6F" stroke="#A66C55" stroke-width="0.4"/>
<ellipse cx="447.50" cy="288.97" rx="4.00" ry="2.80" fill="url(#gG)" opacity="0.95"/>
<ellipse cx="447.50" cy="294.18" rx="4.00" ry="2.80" fill="url(#gB)" opacity="0.95"/>
<ellipse cx="458.00" cy="288.45" rx="4.10" ry="3.00" fill="url(#gB)" opacity="0.95"/>
<ellipse cx="458.00" cy="294.03" rx="4.10" ry="3.00" fill="url(#gG)" opacity="0.95"/>
<ellipse cx="468.50" cy="287.27" rx="6.40" ry="3.90" fill="url(#gG)" opacity="0.95"/>
<ellipse cx="468.50" cy="294.53" rx="6.40" ry="3.90" fill="url(#gB)" opacity="0.95"/>
<ellipse cx="479.25" cy="287.21" rx="6.10" ry="3.60" fill="url(#gB)" opacity="0.95"/>
<ellipse cx="479.25" cy="293.90" rx="6.10" ry="3.60" fill="url(#gG)" opacity="0.95"/>
<ellipse cx="489.00" cy="287.45" rx="4.25" ry="3.00" fill="url(#gG)" opacity="0.95"/>
<ellipse cx="489.00" cy="293.03" rx="4.25" ry="3.00" fill="url(#gB)" opacity="0.95"/>
<line x1="442.00" y1="291.75" x2="494.50" y2="290.07" stroke="#52B945" stroke-width="1.3" />
<circle cx="452.00" cy="291.43" r="1.35" fill="#CDD273" stroke="#8FA24A" stroke-width="0.4"/>
<circle cx="458.50" cy="291.22" r="1.35" fill="#CDD273" stroke="#8FA24A" stroke-width="0.4"/>
<circle cx="463.50" cy="291.06" r="1.35" fill="#CDD273" stroke="#8FA24A" stroke-width="0.4"/>
<circle cx="469.50" cy="290.87" r="1.35" fill="#CDD273" stroke="#8FA24A" stroke-width="0.4"/>
<circle cx="474.50" cy="290.71" r="1.35" fill="#CDD273" stroke="#8FA24A" stroke-width="0.4"/>
<circle cx="479.50" cy="290.55" r="1.35" fill="#CDD273" stroke="#8FA24A" stroke-width="0.4"/>
<circle cx="485.00" cy="290.37" r="1.35" fill="#CDD273" stroke="#8FA24A" stroke-width="0.4"/>
<circle cx="441.50" cy="291.76" r="1.55" fill="#ffffff" stroke="#8a8a8a" stroke-width="0.6"/>
<circle cx="447.00" cy="291.59" r="1.55" fill="#ffffff" stroke="#8a8a8a" stroke-width="0.6"/>
<circle cx="455.50" cy="291.32" r="1.55" fill="#ffffff" stroke="#8a8a8a" stroke-width="0.6"/>
<circle cx="461.50" cy="291.12" r="1.55" fill="#ffffff" stroke="#8a8a8a" stroke-width="0.6"/>
<circle cx="472.00" cy="290.79" r="1.55" fill="#ffffff" stroke="#8a8a8a" stroke-width="0.6"/>
<circle cx="481.50" cy="290.48" r="1.55" fill="#ffffff" stroke="#8a8a8a" stroke-width="0.6"/>
<circle cx="490.00" cy="290.21" r="1.55" fill="#ffffff" stroke="#8a8a8a" stroke-width="0.6"/>
<circle cx="495.25" cy="290.04" r="1.55" fill="#ffffff" stroke="#8a8a8a" stroke-width="0.6"/>
<line x1="482.50" y1="277.25" x2="474.20" y2="270.55" stroke="#46BE46" stroke-width="1.5" />
<line x1="482.50" y1="277.25" x2="491.50" y2="271.15" stroke="#46BE46" stroke-width="1.5" />
<line x1="474.20" y1="270.55" x2="471.25" y2="264.40" stroke="#46BE46" stroke-width="1.5" />
<line x1="471.25" y1="264.40" x2="461.90" y2="263.75" stroke="#46BE46" stroke-width="1.5" />
<line x1="461.90" y1="263.75" x2="460.60" y2="268.10" stroke="#46BE46" stroke-width="1.5" />
<line x1="460.60" y1="268.10" x2="469.40" y2="268.75" stroke="#46BE46" stroke-width="1.5" />
<line x1="469.40" y1="268.75" x2="474.20" y2="270.55" stroke="#46BE46" stroke-width="1.5" />
<line x1="491.50" y1="271.15" x2="492.50" y2="262.50" stroke="#46BE46" stroke-width="1.5" />
<line x1="492.50" y1="262.50" x2="498.10" y2="259.40" stroke="#46BE46" stroke-width="1.5" />
<line x1="498.10" y1="259.40" x2="503.10" y2="266.90" stroke="#46BE46" stroke-width="1.5" />
<line x1="503.10" y1="266.90" x2="496.90" y2="272.50" stroke="#46BE46" stroke-width="1.5" />
<line x1="496.90" y1="272.50" x2="491.50" y2="271.15" stroke="#46BE46" stroke-width="1.5" />
<line x1="464.40" y1="257.50" x2="461.90" y2="263.75" stroke="#46BE46" stroke-width="1.0" />
<line x1="471.25" y1="258.10" x2="471.25" y2="264.40" stroke="#46BE46" stroke-width="1.0" />
<line x1="457.50" y1="263.75" x2="461.90" y2="263.75" stroke="#46BE46" stroke-width="1.0" />
<line x1="457.50" y1="273.10" x2="460.60" y2="268.10" stroke="#46BE46" stroke-width="1.0" />
<line x1="468.10" y1="275.00" x2="469.40" y2="268.75" stroke="#46BE46" stroke-width="1.0" />
<line x1="476.25" y1="265.00" x2="471.25" y2="264.40" stroke="#46BE46" stroke-width="1.0" />
<line x1="486.90" y1="260.60" x2="492.50" y2="262.50" stroke="#46BE46" stroke-width="1.0" />
<line x1="495.60" y1="255.60" x2="498.10" y2="259.40" stroke="#46BE46" stroke-width="1.0" />
<line x1="501.90" y1="254.75" x2="498.10" y2="259.40" stroke="#46BE46" stroke-width="1.0" />
<line x1="507.50" y1="267.90" x2="503.10" y2="266.90" stroke="#46BE46" stroke-width="1.0" />
<line x1="499.00" y1="278.10" x2="496.90" y2="272.50" stroke="#46BE46" stroke-width="1.0" />
<line x1="505.00" y1="262.75" x2="503.10" y2="266.90" stroke="#46BE46" stroke-width="1.0" />
<circle cx="464.40" cy="257.50" r="1.60" fill="#ffffff" stroke="#8a8a8a" stroke-width="0.6"/>
<circle cx="471.25" cy="258.10" r="1.60" fill="#ffffff" stroke="#8a8a8a" stroke-width="0.6"/>
<circle cx="457.50" cy="263.75" r="1.60" fill="#ffffff" stroke="#8a8a8a" stroke-width="0.6"/>
<circle cx="457.50" cy="273.10" r="1.60" fill="#ffffff" stroke="#8a8a8a" stroke-width="0.6"/>
<circle cx="468.10" cy="275.00" r="1.60" fill="#ffffff" stroke="#8a8a8a" stroke-width="0.6"/>
<circle cx="476.25" cy="265.00" r="1.60" fill="#ffffff" stroke="#8a8a8a" stroke-width="0.6"/>
<circle cx="486.90" cy="260.60" r="1.60" fill="#ffffff" stroke="#8a8a8a" stroke-width="0.6"/>
<circle cx="495.60" cy="255.60" r="1.60" fill="#ffffff" stroke="#8a8a8a" stroke-width="0.6"/>
<circle cx="501.90" cy="254.75" r="1.60" fill="#ffffff" stroke="#8a8a8a" stroke-width="0.6"/>
<circle cx="507.50" cy="267.90" r="1.60" fill="#ffffff" stroke="#8a8a8a" stroke-width="0.6"/>
<circle cx="499.00" cy="278.10" r="1.60" fill="#ffffff" stroke="#8a8a8a" stroke-width="0.6"/>
<circle cx="505.00" cy="262.75" r="1.60" fill="#ffffff" stroke="#8a8a8a" stroke-width="0.6"/>
<circle cx="471.25" cy="264.40" r="2.25" fill="#CDD273" stroke="#8FA24A" stroke-width="0.4"/>
<circle cx="461.90" cy="263.75" r="2.25" fill="#CDD273" stroke="#8FA24A" stroke-width="0.4"/>
<circle cx="460.60" cy="268.10" r="2.25" fill="#CDD273" stroke="#8FA24A" stroke-width="0.4"/>
<circle cx="469.40" cy="268.75" r="2.25" fill="#CDD273" stroke="#8FA24A" stroke-width="0.4"/>
<circle cx="492.50" cy="262.50" r="2.25" fill="#CDD273" stroke="#8FA24A" stroke-width="0.4"/>
<circle cx="498.10" cy="259.40" r="2.25" fill="#CDD273" stroke="#8FA24A" stroke-width="0.4"/>
<circle cx="503.10" cy="266.90" r="2.25" fill="#CDD273" stroke="#8FA24A" stroke-width="0.4"/>
<circle cx="496.90" cy="272.50" r="2.25" fill="#CDD273" stroke="#8FA24A" stroke-width="0.4"/>
<circle cx="474.20" cy="270.55" r="2.00" fill="#E31E1E"/>
<circle cx="491.50" cy="271.15" r="2.00" fill="#E31E1E"/>
<circle cx="482.50" cy="277.25" r="2.50" fill="#CB8B6F" stroke="#A66C55" stroke-width="0.4"/>
<ellipse cx="285.09" cy="400.02" rx="4.75" ry="3.10" fill="url(#gB)" opacity="0.95"/>
<ellipse cx="285.09" cy="405.78" rx="4.75" ry="3.10" fill="url(#gG)" opacity="0.95"/>
<ellipse cx="300.48" cy="399.55" rx="5.67" ry="3.60" fill="url(#gG)" opacity="0.95"/>
<ellipse cx="300.48" cy="406.25" rx="5.67" ry="3.60" fill="url(#gB)" opacity="0.95"/>
<ellipse cx="315.06" cy="399.55" rx="5.67" ry="3.60" fill="url(#gB)" opacity="0.95"/>
<ellipse cx="315.06" cy="406.25" rx="5.67" ry="3.60" fill="url(#gG)" opacity="0.95"/>
<ellipse cx="329.91" cy="400.02" rx="4.59" ry="3.10" fill="url(#gG)" opacity="0.95"/>
<ellipse cx="329.91" cy="405.78" rx="4.59" ry="3.10" fill="url(#gB)" opacity="0.95"/>
<line x1="279.00" y1="402.90" x2="335.50" y2="402.90" stroke="#52B945" stroke-width="1.3" />
<circle cx="288.60" cy="402.90" r="1.35" fill="#CDD273" stroke="#8FA24A" stroke-width="0.4"/>
<circle cx="296.70" cy="402.90" r="1.35" fill="#CDD273" stroke="#8FA24A" stroke-width="0.4"/>
<circle cx="304.26" cy="402.90" r="1.35" fill="#CDD273" stroke="#8FA24A" stroke-width="0.4"/>
<circle cx="311.28" cy="402.90" r="1.35" fill="#CDD273" stroke="#8FA24A" stroke-width="0.4"/>
<circle cx="318.84" cy="402.90" r="1.35" fill="#CDD273" stroke="#8FA24A" stroke-width="0.4"/>
<circle cx="326.40" cy="402.90" r="1.35" fill="#CDD273" stroke="#8FA24A" stroke-width="0.4"/>
<circle cx="277.53" cy="402.90" r="1.55" fill="#ffffff" stroke="#8a8a8a" stroke-width="0.6"/>
<circle cx="283.74" cy="402.90" r="1.55" fill="#ffffff" stroke="#8a8a8a" stroke-width="0.6"/>
<circle cx="300.75" cy="402.90" r="1.55" fill="#ffffff" stroke="#8a8a8a" stroke-width="0.6"/>
<circle cx="307.50" cy="402.90" r="1.55" fill="#ffffff" stroke="#8a8a8a" stroke-width="0.6"/>
<circle cx="315.33" cy="402.90" r="1.55" fill="#ffffff" stroke="#8a8a8a" stroke-width="0.6"/>
<circle cx="331.26" cy="402.90" r="1.55" fill="#ffffff" stroke="#8a8a8a" stroke-width="0.6"/>
<circle cx="337.20" cy="402.90" r="1.55" fill="#ffffff" stroke="#8a8a8a" stroke-width="0.6"/>
<line x1="322.50" y1="390.00" x2="314.20" y2="380.00" stroke="#46BE46" stroke-width="1.5" />
<line x1="322.50" y1="390.00" x2="331.10" y2="380.30" stroke="#46BE46" stroke-width="1.5" />
<line x1="314.20" y1="380.00" x2="318.75" y2="372.50" stroke="#46BE46" stroke-width="1.5" />
<line x1="318.75" y1="372.50" x2="327.10" y2="372.20" stroke="#46BE46" stroke-width="1.5" />
<line x1="327.10" y1="372.20" x2="331.10" y2="380.30" stroke="#46BE46" stroke-width="1.5" />
<line x1="314.20" y1="380.00" x2="306.00" y2="380.50" stroke="#46BE46" stroke-width="1.5" />
<line x1="331.10" y1="380.30" x2="339.70" y2="380.80" stroke="#46BE46" stroke-width="1.5" />
<line x1="315.20" y1="366.50" x2="318.75" y2="372.50" stroke="#46BE46" stroke-width="1.0" />
<line x1="331.10" y1="367.00" x2="327.10" y2="372.20" stroke="#46BE46" stroke-width="1.0" />
<line x1="302.50" y1="375.00" x2="306.00" y2="380.50" stroke="#46BE46" stroke-width="1.0" />
<line x1="303.30" y1="386.10" x2="306.00" y2="380.50" stroke="#46BE46" stroke-width="1.0" />
<line x1="343.75" y1="376.00" x2="339.70" y2="380.80" stroke="#46BE46" stroke-width="1.0" />
<line x1="342.10" y1="387.00" x2="339.70" y2="380.80" stroke="#46BE46" stroke-width="1.0" />
<line x1="324.00" y1="368.50" x2="327.10" y2="372.20" stroke="#46BE46" stroke-width="1.0" />
<circle cx="315.20" cy="366.50" r="1.60" fill="#ffffff" stroke="#8a8a8a" stroke-width="0.6"/>
<circle cx="331.10" cy="367.00" r="1.60" fill="#ffffff" stroke="#8a8a8a" stroke-width="0.6"/>
<circle cx="302.50" cy="375.00" r="1.60" fill="#ffffff" stroke="#8a8a8a" stroke-width="0.6"/>
<circle cx="303.30" cy="386.10" r="1.60" fill="#ffffff" stroke="#8a8a8a" stroke-width="0.6"/>
<circle cx="343.75" cy="376.00" r="1.60" fill="#ffffff" stroke="#8a8a8a" stroke-width="0.6"/>
<circle cx="342.10" cy="387.00" r="1.60" fill="#ffffff" stroke="#8a8a8a" stroke-width="0.6"/>
<circle cx="324.00" cy="368.50" r="1.60" fill="#ffffff" stroke="#8a8a8a" stroke-width="0.6"/>
<circle cx="318.75" cy="372.50" r="2.25" fill="#CDD273" stroke="#8FA24A" stroke-width="0.4"/>
<circle cx="327.10" cy="372.20" r="2.25" fill="#CDD273" stroke="#8FA24A" stroke-width="0.4"/>
<circle cx="306.00" cy="380.50" r="2.25" fill="#CDD273" stroke="#8FA24A" stroke-width="0.4"/>
<circle cx="339.70" cy="380.80" r="2.25" fill="#CDD273" stroke="#8FA24A" stroke-width="0.4"/>
<circle cx="314.20" cy="380.00" r="2.00" fill="#E31E1E"/>
<circle cx="331.10" cy="380.30" r="2.00" fill="#E31E1E"/>
<circle cx="322.50" cy="390.00" r="2.50" fill="#CB8B6F" stroke="#A66C55" stroke-width="0.4"/>
<ellipse cx="368.71" cy="395.02" rx="4.36" ry="3.10" fill="url(#gG)" opacity="0.95"/>
<ellipse cx="368.71" cy="400.78" rx="4.36" ry="3.10" fill="url(#gB)" opacity="0.95"/>
<ellipse cx="382.81" cy="394.55" rx="5.20" ry="3.60" fill="url(#gB)" opacity="0.95"/>
<ellipse cx="382.81" cy="401.25" rx="5.20" ry="3.60" fill="url(#gG)" opacity="0.95"/>
<ellipse cx="396.18" cy="394.55" rx="5.20" ry="3.60" fill="url(#gG)" opacity="0.95"/>
<ellipse cx="396.18" cy="401.25" rx="5.20" ry="3.60" fill="url(#gB)" opacity="0.95"/>
<ellipse cx="409.79" cy="395.02" rx="4.21" ry="3.10" fill="url(#gB)" opacity="0.95"/>
<ellipse cx="409.79" cy="400.78" rx="4.21" ry="3.10" fill="url(#gG)" opacity="0.95"/>
<line x1="363.00" y1="397.90" x2="415.00" y2="397.90" stroke="#52B945" stroke-width="1.3" />
<circle cx="371.93" cy="397.90" r="1.35" fill="#CDD273" stroke="#8FA24A" stroke-width="0.4"/>
<circle cx="379.35" cy="397.90" r="1.35" fill="#CDD273" stroke="#8FA24A" stroke-width="0.4"/>
<circle cx="386.28" cy="397.90" r="1.35" fill="#CDD273" stroke="#8FA24A" stroke-width="0.4"/>
<circle cx="392.71" cy="397.90" r="1.35" fill="#CDD273" stroke="#8FA24A" stroke-width="0.4"/>
<circle cx="399.64" cy="397.90" r="1.35" fill="#CDD273" stroke="#8FA24A" stroke-width="0.4"/>
<circle cx="406.57" cy="397.90" r="1.35" fill="#CDD273" stroke="#8FA24A" stroke-width="0.4"/>
<circle cx="361.78" cy="397.90" r="1.55" fill="#ffffff" stroke="#8a8a8a" stroke-width="0.6"/>
<circle cx="367.47" cy="397.90" r="1.55" fill="#ffffff" stroke="#8a8a8a" stroke-width="0.6"/>
<circle cx="383.06" cy="397.90" r="1.55" fill="#ffffff" stroke="#8a8a8a" stroke-width="0.6"/>
<circle cx="389.25" cy="397.90" r="1.55" fill="#ffffff" stroke="#8a8a8a" stroke-width="0.6"/>
<circle cx="396.43" cy="397.90" r="1.55" fill="#ffffff" stroke="#8a8a8a" stroke-width="0.6"/>
<circle cx="411.03" cy="397.90" r="1.55" fill="#ffffff" stroke="#8a8a8a" stroke-width="0.6"/>
<circle cx="416.48" cy="397.90" r="1.55" fill="#ffffff" stroke="#8a8a8a" stroke-width="0.6"/>
<line x1="403.40" y1="385.60" x2="395.40" y2="377.90" stroke="#46BE46" stroke-width="1.5" />
<line x1="403.40" y1="385.60" x2="412.20" y2="379.20" stroke="#46BE46" stroke-width="1.5" />
<line x1="395.40" y1="377.90" x2="393.20" y2="373.30" stroke="#46BE46" stroke-width="1.5" />
<line x1="393.20" y1="373.30" x2="387.20" y2="368.30" stroke="#46BE46" stroke-width="1.5" />
<line x1="387.20" y1="368.30" x2="384.65" y2="370.40" stroke="#46BE46" stroke-width="1.5" />
<line x1="384.65" y1="370.40" x2="388.65" y2="377.70" stroke="#46BE46" stroke-width="1.5" />
<line x1="388.65" y1="377.70" x2="395.40" y2="377.90" stroke="#46BE46" stroke-width="1.5" />
<line x1="412.20" y1="379.20" x2="414.00" y2="372.10" stroke="#46BE46" stroke-width="1.5" />
<line x1="414.00" y1="372.10" x2="420.90" y2="368.10" stroke="#46BE46" stroke-width="1.5" />
<line x1="420.90" y1="368.10" x2="424.65" y2="375.20" stroke="#46BE46" stroke-width="1.5" />
<line x1="424.65" y1="375.20" x2="418.00" y2="380.85" stroke="#46BE46" stroke-width="1.5" />
<line x1="418.00" y1="380.85" x2="412.20" y2="379.20" stroke="#46BE46" stroke-width="1.5" />
<line x1="377.80" y1="370.60" x2="384.65" y2="370.40" stroke="#46BE46" stroke-width="1.0" />
<line x1="385.90" y1="364.35" x2="387.20" y2="368.30" stroke="#46BE46" stroke-width="1.0" />
<line x1="381.50" y1="374.60" x2="384.65" y2="370.40" stroke="#46BE46" stroke-width="1.0" />
<line x1="397.80" y1="368.60" x2="393.20" y2="373.30" stroke="#46BE46" stroke-width="1.0" />
<line x1="385.30" y1="383.10" x2="388.65" y2="377.70" stroke="#46BE46" stroke-width="1.0" />
<line x1="390.90" y1="364.10" x2="387.20" y2="368.30" stroke="#46BE46" stroke-width="1.0" />
<line x1="409.00" y1="368.60" x2="414.00" y2="372.10" stroke="#46BE46" stroke-width="1.0" />
<line x1="417.80" y1="364.30" x2="420.90" y2="368.10" stroke="#46BE46" stroke-width="1.0" />
<line x1="424.90" y1="364.40" x2="420.90" y2="368.10" stroke="#46BE46" stroke-width="1.0" />
<line x1="429.20" y1="378.10" x2="424.65" y2="375.20" stroke="#46BE46" stroke-width="1.0" />
<line x1="427.80" y1="373.40" x2="424.65" y2="375.20" stroke="#46BE46" stroke-width="1.0" />
<line x1="419.65" y1="386.50" x2="418.00" y2="380.85" stroke="#46BE46" stroke-width="1.0" />
<circle cx="377.80" cy="370.60" r="1.60" fill="#ffffff" stroke="#8a8a8a" stroke-width="0.6"/>
<circle cx="385.90" cy="364.35" r="1.60" fill="#ffffff" stroke="#8a8a8a" stroke-width="0.6"/>
<circle cx="381.50" cy="374.60" r="1.60" fill="#ffffff" stroke="#8a8a8a" stroke-width="0.6"/>
<circle cx="397.80" cy="368.60" r="1.60" fill="#ffffff" stroke="#8a8a8a" stroke-width="0.6"/>
<circle cx="385.30" cy="383.10" r="1.60" fill="#ffffff" stroke="#8a8a8a" stroke-width="0.6"/>
<circle cx="390.90" cy="364.10" r="1.60" fill="#ffffff" stroke="#8a8a8a" stroke-width="0.6"/>
<circle cx="409.00" cy="368.60" r="1.60" fill="#ffffff" stroke="#8a8a8a" stroke-width="0.6"/>
<circle cx="417.80" cy="364.30" r="1.60" fill="#ffffff" stroke="#8a8a8a" stroke-width="0.6"/>
<circle cx="424.90" cy="364.40" r="1.60" fill="#ffffff" stroke="#8a8a8a" stroke-width="0.6"/>
<circle cx="429.20" cy="378.10" r="1.60" fill="#ffffff" stroke="#8a8a8a" stroke-width="0.6"/>
<circle cx="427.80" cy="373.40" r="1.60" fill="#ffffff" stroke="#8a8a8a" stroke-width="0.6"/>
<circle cx="419.65" cy="386.50" r="1.60" fill="#ffffff" stroke="#8a8a8a" stroke-width="0.6"/>
<circle cx="393.20" cy="373.30" r="2.25" fill="#CDD273" stroke="#8FA24A" stroke-width="0.4"/>
<circle cx="387.20" cy="368.30" r="2.25" fill="#CDD273" stroke="#8FA24A" stroke-width="0.4"/>
<circle cx="384.65" cy="370.40" r="2.25" fill="#CDD273" stroke="#8FA24A" stroke-width="0.4"/>
<circle cx="388.65" cy="377.70" r="2.25" fill="#CDD273" stroke="#8FA24A" stroke-width="0.4"/>
<circle cx="414.00" cy="372.10" r="2.25" fill="#CDD273" stroke="#8FA24A" stroke-width="0.4"/>
<circle cx="420.90" cy="368.10" r="2.25" fill="#CDD273" stroke="#8FA24A" stroke-width="0.4"/>
<circle cx="424.65" cy="375.20" r="2.25" fill="#CDD273" stroke="#8FA24A" stroke-width="0.4"/>
<circle cx="418.00" cy="380.85" r="2.25" fill="#CDD273" stroke="#8FA24A" stroke-width="0.4"/>
<circle cx="395.40" cy="377.90" r="2.00" fill="#E31E1E"/>
<circle cx="412.20" cy="379.20" r="2.00" fill="#E31E1E"/>
<circle cx="403.40" cy="385.60" r="2.50" fill="#CB8B6F" stroke="#A66C55" stroke-width="0.4"/>
<ellipse cx="447.17" cy="392.85" rx="4.31" ry="3.10" fill="url(#gB)" opacity="0.95"/>
<ellipse cx="447.17" cy="398.61" rx="4.31" ry="3.10" fill="url(#gG)" opacity="0.95"/>
<ellipse cx="461.13" cy="392.16" rx="5.14" ry="3.60" fill="url(#gG)" opacity="0.95"/>
<ellipse cx="461.13" cy="398.85" rx="5.14" ry="3.60" fill="url(#gB)" opacity="0.95"/>
<ellipse cx="474.36" cy="391.94" rx="5.14" ry="3.60" fill="url(#gB)" opacity="0.95"/>
<ellipse cx="474.36" cy="398.64" rx="5.14" ry="3.60" fill="url(#gG)" opacity="0.95"/>
<ellipse cx="487.83" cy="392.19" rx="4.17" ry="3.10" fill="url(#gG)" opacity="0.95"/>
<ellipse cx="487.83" cy="397.95" rx="4.17" ry="3.10" fill="url(#gB)" opacity="0.95"/>
<line x1="441.50" y1="395.82" x2="493.00" y2="394.98" stroke="#52B945" stroke-width="1.3" />
<circle cx="450.35" cy="395.68" r="1.35" fill="#CDD273" stroke="#8FA24A" stroke-width="0.4"/>
<circle cx="457.70" cy="395.56" r="1.35" fill="#CDD273" stroke="#8FA24A" stroke-width="0.4"/>
<circle cx="464.56" cy="395.45" r="1.35" fill="#CDD273" stroke="#8FA24A" stroke-width="0.4"/>
<circle cx="470.93" cy="395.34" r="1.35" fill="#CDD273" stroke="#8FA24A" stroke-width="0.4"/>
<circle cx="477.79" cy="395.23" r="1.35" fill="#CDD273" stroke="#8FA24A" stroke-width="0.4"/>
<circle cx="484.65" cy="395.12" r="1.35" fill="#CDD273" stroke="#8FA24A" stroke-width="0.4"/>
<circle cx="440.31" cy="395.84" r="1.55" fill="#ffffff" stroke="#8a8a8a" stroke-width="0.6"/>
<circle cx="445.94" cy="395.75" r="1.55" fill="#ffffff" stroke="#8a8a8a" stroke-width="0.6"/>
<circle cx="461.38" cy="395.50" r="1.55" fill="#ffffff" stroke="#8a8a8a" stroke-width="0.6"/>
<circle cx="467.50" cy="395.40" r="1.55" fill="#ffffff" stroke="#8a8a8a" stroke-width="0.6"/>
<circle cx="474.61" cy="395.28" r="1.55" fill="#ffffff" stroke="#8a8a8a" stroke-width="0.6"/>
<circle cx="489.06" cy="395.05" r="1.55" fill="#ffffff" stroke="#8a8a8a" stroke-width="0.6"/>
<circle cx="494.45" cy="394.96" r="1.55" fill="#ffffff" stroke="#8a8a8a" stroke-width="0.6"/>
<line x1="481.00" y1="382.20" x2="472.70" y2="375.50" stroke="#46BE46" stroke-width="1.5" />
<line x1="481.00" y1="382.20" x2="490.00" y2="376.10" stroke="#46BE46" stroke-width="1.5" />
<line x1="472.70" y1="375.50" x2="469.75" y2="369.35" stroke="#46BE46" stroke-width="1.5" />
<line x1="469.75" y1="369.35" x2="460.40" y2="368.70" stroke="#46BE46" stroke-width="1.5" />
<line x1="460.40" y1="368.70" x2="459.10" y2="373.05" stroke="#46BE46" stroke-width="1.5" />
<line x1="459.10" y1="373.05" x2="467.90" y2="373.70" stroke="#46BE46" stroke-width="1.5" />
<line x1="467.90" y1="373.70" x2="472.70" y2="375.50" stroke="#46BE46" stroke-width="1.5" />
<line x1="490.00" y1="376.10" x2="491.00" y2="367.45" stroke="#46BE46" stroke-width="1.5" />
<line x1="491.00" y1="367.45" x2="496.60" y2="364.35" stroke="#46BE46" stroke-width="1.5" />
<line x1="496.60" y1="364.35" x2="501.60" y2="371.85" stroke="#46BE46" stroke-width="1.5" />
<line x1="501.60" y1="371.85" x2="495.40" y2="377.45" stroke="#46BE46" stroke-width="1.5" />
<line x1="495.40" y1="377.45" x2="490.00" y2="376.10" stroke="#46BE46" stroke-width="1.5" />
<line x1="462.90" y1="362.45" x2="460.40" y2="368.70" stroke="#46BE46" stroke-width="1.0" />
<line x1="469.75" y1="363.05" x2="469.75" y2="369.35" stroke="#46BE46" stroke-width="1.0" />
<line x1="456.00" y1="368.70" x2="460.40" y2="368.70" stroke="#46BE46" stroke-width="1.0" />
<line x1="456.00" y1="378.05" x2="459.10" y2="373.05" stroke="#46BE46" stroke-width="1.0" />
<line x1="466.60" y1="379.95" x2="467.90" y2="373.70" stroke="#46BE46" stroke-width="1.0" />
<line x1="474.75" y1="369.95" x2="469.75" y2="369.35" stroke="#46BE46" stroke-width="1.0" />
<line x1="485.40" y1="365.55" x2="491.00" y2="367.45" stroke="#46BE46" stroke-width="1.0" />
<line x1="494.10" y1="360.55" x2="496.60" y2="364.35" stroke="#46BE46" stroke-width="1.0" />
<line x1="500.40" y1="359.70" x2="496.60" y2="364.35" stroke="#46BE46" stroke-width="1.0" />
<line x1="506.00" y1="372.85" x2="501.60" y2="371.85" stroke="#46BE46" stroke-width="1.0" />
<line x1="497.50" y1="383.05" x2="495.40" y2="377.45" stroke="#46BE46" stroke-width="1.0" />
<line x1="503.50" y1="367.70" x2="501.60" y2="371.85" stroke="#46BE46" stroke-width="1.0" />
<circle cx="462.90" cy="362.45" r="1.60" fill="#ffffff" stroke="#8a8a8a" stroke-width="0.6"/>
<circle cx="469.75" cy="363.05" r="1.60" fill="#ffffff" stroke="#8a8a8a" stroke-width="0.6"/>
<circle cx="456.00" cy="368.70" r="1.60" fill="#ffffff" stroke="#8a8a8a" stroke-width="0.6"/>
<circle cx="456.00" cy="378.05" r="1.60" fill="#ffffff" stroke="#8a8a8a" stroke-width="0.6"/>
<circle cx="466.60" cy="379.95" r="1.60" fill="#ffffff" stroke="#8a8a8a" stroke-width="0.6"/>
<circle cx="474.75" cy="369.95" r="1.60" fill="#ffffff" stroke="#8a8a8a" stroke-width="0.6"/>
<circle cx="485.40" cy="365.55" r="1.60" fill="#ffffff" stroke="#8a8a8a" stroke-width="0.6"/>
<circle cx="494.10" cy="360.55" r="1.60" fill="#ffffff" stroke="#8a8a8a" stroke-width="0.6"/>
<circle cx="500.40" cy="359.70" r="1.60" fill="#ffffff" stroke="#8a8a8a" stroke-width="0.6"/>
<circle cx="506.00" cy="372.85" r="1.60" fill="#ffffff" stroke="#8a8a8a" stroke-width="0.6"/>
<circle cx="497.50" cy="383.05" r="1.60" fill="#ffffff" stroke="#8a8a8a" stroke-width="0.6"/>
<circle cx="503.50" cy="367.70" r="1.60" fill="#ffffff" stroke="#8a8a8a" stroke-width="0.6"/>
<circle cx="469.75" cy="369.35" r="2.25" fill="#CDD273" stroke="#8FA24A" stroke-width="0.4"/>
<circle cx="460.40" cy="368.70" r="2.25" fill="#CDD273" stroke="#8FA24A" stroke-width="0.4"/>
<circle cx="459.10" cy="373.05" r="2.25" fill="#CDD273" stroke="#8FA24A" stroke-width="0.4"/>
<circle cx="467.90" cy="373.70" r="2.25" fill="#CDD273" stroke="#8FA24A" stroke-width="0.4"/>
<circle cx="491.00" cy="367.45" r="2.25" fill="#CDD273" stroke="#8FA24A" stroke-width="0.4"/>
<circle cx="496.60" cy="364.35" r="2.25" fill="#CDD273" stroke="#8FA24A" stroke-width="0.4"/>
<circle cx="501.60" cy="371.85" r="2.25" fill="#CDD273" stroke="#8FA24A" stroke-width="0.4"/>
<circle cx="495.40" cy="377.45" r="2.25" fill="#CDD273" stroke="#8FA24A" stroke-width="0.4"/>
<circle cx="472.70" cy="375.50" r="2.00" fill="#E31E1E"/>
<circle cx="490.00" cy="376.10" r="2.00" fill="#E31E1E"/>
<circle cx="481.00" cy="382.20" r="2.50" fill="#CB8B6F" stroke="#A66C55" stroke-width="0.4"/>
<ellipse cx="207.80" cy="319.00" rx="5.00" ry="5.50" fill="url(#gG)" opacity="0.95"/>
<ellipse cx="206.00" cy="324.40" rx="3.00" ry="2.80" fill="url(#gB)" opacity="0.95"/>
<ellipse cx="222.20" cy="317.80" rx="4.50" ry="5.50" fill="url(#gB)" opacity="0.95"/>
<ellipse cx="223.30" cy="324.60" rx="3.60" ry="3.20" fill="url(#gG)" opacity="0.95"/>
<ellipse cx="235.50" cy="320.00" rx="5.00" ry="6.00" fill="url(#gG)" opacity="0.95"/>
<ellipse cx="248.30" cy="317.20" rx="4.50" ry="4.00" fill="url(#gB)" opacity="0.95"/>
<ellipse cx="235.80" cy="327.20" rx="3.00" ry="2.60" fill="url(#gB)" opacity="0.95"/>
<ellipse cx="247.80" cy="324.60" rx="4.00" ry="3.40" fill="url(#gG)" opacity="0.95"/>
<path d="M222.20,321.30L218.20,325.28L210.20,325.28L206.20,321.30L210.20,317.32L218.20,317.32 Z" fill="none" stroke="#46BE46" stroke-width="1.0" stroke-linejoin="round"/>
<path d="M249.00,321.00L245.00,324.98L237.00,324.98L233.00,321.00L237.00,317.02L245.00,317.02 Z" fill="none" stroke="#46BE46" stroke-width="1.0" stroke-linejoin="round"/>
<line x1="222.20" y1="321.30" x2="233.00" y2="321.00" stroke="#46BE46" stroke-width="1.0" />
<line x1="202.00" y1="320.60" x2="206.20" y2="321.30" stroke="#46BE46" stroke-width="0.9" />
<line x1="249.00" y1="321.00" x2="254.50" y2="320.80" stroke="#46BE46" stroke-width="0.9" />
<line x1="241.00" y1="313.50" x2="243.00" y2="317.00" stroke="#46BE46" stroke-width="0.9" />
<circle cx="222.20" cy="321.30" r="1.20" fill="#CDD273" stroke="#8FA24A" stroke-width="0.4"/>
<circle cx="218.20" cy="325.28" r="1.20" fill="#CDD273" stroke="#8FA24A" stroke-width="0.4"/>
<circle cx="210.20" cy="325.28" r="1.20" fill="#CDD273" stroke="#8FA24A" stroke-width="0.4"/>
<circle cx="206.20" cy="321.30" r="1.20" fill="#CDD273" stroke="#8FA24A" stroke-width="0.4"/>
<circle cx="210.20" cy="317.32" r="1.20" fill="#CDD273" stroke="#8FA24A" stroke-width="0.4"/>
<circle cx="218.20" cy="317.32" r="1.20" fill="#CDD273" stroke="#8FA24A" stroke-width="0.4"/>
<circle cx="249.00" cy="321.00" r="1.20" fill="#CDD273" stroke="#8FA24A" stroke-width="0.4"/>
<circle cx="245.00" cy="324.98" r="1.20" fill="#CDD273" stroke="#8FA24A" stroke-width="0.4"/>
<circle cx="237.00" cy="324.98" r="1.20" fill="#CDD273" stroke="#8FA24A" stroke-width="0.4"/>
<circle cx="233.00" cy="321.00" r="1.20" fill="#CDD273" stroke="#8FA24A" stroke-width="0.4"/>
<circle cx="237.00" cy="317.02" r="1.20" fill="#CDD273" stroke="#8FA24A" stroke-width="0.4"/>
<circle cx="245.00" cy="317.02" r="1.20" fill="#CDD273" stroke="#8FA24A" stroke-width="0.4"/>
<circle cx="201.10" cy="320.30" r="1.60" fill="#ffffff" stroke="#8a8a8a" stroke-width="0.6"/>
<circle cx="206.70" cy="327.80" r="1.60" fill="#ffffff" stroke="#8a8a8a" stroke-width="0.6"/>
<circle cx="222.20" cy="328.00" r="1.60" fill="#ffffff" stroke="#8a8a8a" stroke-width="0.6"/>
<circle cx="233.90" cy="328.90" r="1.60" fill="#ffffff" stroke="#8a8a8a" stroke-width="0.6"/>
<circle cx="248.90" cy="328.30" r="1.60" fill="#ffffff" stroke="#8a8a8a" stroke-width="0.6"/>
<circle cx="255.00" cy="320.80" r="1.60" fill="#ffffff" stroke="#8a8a8a" stroke-width="0.6"/>
<circle cx="240.50" cy="312.50" r="2.30" fill="#CB8B6F" stroke="#A66C55" stroke-width="0.4"/>
<ellipse cx="207.60" cy="413.60" rx="4.60" ry="3.80" fill="url(#gG)" opacity="0.95"/>
<ellipse cx="208.00" cy="420.80" rx="4.20" ry="3.00" fill="url(#gG)" opacity="0.95"/>
<ellipse cx="219.00" cy="411.40" rx="3.40" ry="3.30" fill="url(#gB)" opacity="0.95"/>
<ellipse cx="219.00" cy="418.40" rx="3.40" ry="3.30" fill="url(#gB)" opacity="0.95"/>
<ellipse cx="231.00" cy="413.20" rx="6.80" ry="4.40" fill="url(#gG)" opacity="0.95"/>
<ellipse cx="230.60" cy="420.40" rx="6.20" ry="3.30" fill="url(#gB)" opacity="0.95"/>
<ellipse cx="249.50" cy="412.30" rx="6.20" ry="4.40" fill="url(#gG)" opacity="0.95"/>
<ellipse cx="241.00" cy="418.80" rx="5.80" ry="3.30" fill="url(#gB)" opacity="0.95"/>
<ellipse cx="251.40" cy="419.60" rx="4.00" ry="3.20" fill="url(#gB)" opacity="0.95"/>
<ellipse cx="241.00" cy="424.30" rx="5.80" ry="2.70" fill="url(#gG)" opacity="0.95"/>
<ellipse cx="240.00" cy="412.50" rx="4.00" ry="3.20" fill="url(#gG)" opacity="0.95"/>
<line x1="203.00" y1="416.30" x2="255.00" y2="416.30" stroke="#46BE46" stroke-width="1.0" />
<line x1="211.00" y1="411.50" x2="211.00" y2="422.50" stroke="#46BE46" stroke-width="1.0" />
<line x1="211.00" y1="411.50" x2="219.00" y2="412.00" stroke="#46BE46" stroke-width="1.0" />
<line x1="211.00" y1="422.50" x2="219.00" y2="421.50" stroke="#46BE46" stroke-width="1.0" />
<circle cx="211.00" cy="413.50" r="1.30" fill="#CDD273" stroke="#8FA24A" stroke-width="0.4"/>
<circle cx="211.00" cy="420.00" r="1.30" fill="#CDD273" stroke="#8FA24A" stroke-width="0.4"/>
<circle cx="223.00" cy="415.00" r="1.30" fill="#CDD273" stroke="#8FA24A" stroke-width="0.4"/>
<circle cx="226.00" cy="417.50" r="1.30" fill="#CDD273" stroke="#8FA24A" stroke-width="0.4"/>
<circle cx="237.00" cy="414.00" r="1.30" fill="#CDD273" stroke="#8FA24A" stroke-width="0.4"/>
<circle cx="244.00" cy="417.00" r="1.30" fill="#CDD273" stroke="#8FA24A" stroke-width="0.4"/>
<circle cx="246.00" cy="421.00" r="1.30" fill="#CDD273" stroke="#8FA24A" stroke-width="0.4"/>
<circle cx="202.20" cy="416.00" r="1.60" fill="#ffffff" stroke="#8a8a8a" stroke-width="0.6"/>
<circle cx="210.30" cy="410.00" r="1.60" fill="#ffffff" stroke="#8a8a8a" stroke-width="0.6"/>
<circle cx="207.60" cy="424.20" r="1.60" fill="#ffffff" stroke="#8a8a8a" stroke-width="0.6"/>
<circle cx="222.50" cy="424.50" r="1.60" fill="#ffffff" stroke="#8a8a8a" stroke-width="0.6"/>
<circle cx="234.70" cy="425.00" r="1.60" fill="#ffffff" stroke="#8a8a8a" stroke-width="0.6"/>
<circle cx="249.50" cy="424.20" r="1.60" fill="#ffffff" stroke="#8a8a8a" stroke-width="0.6"/>
<circle cx="256.00" cy="416.80" r="1.60" fill="#ffffff" stroke="#8a8a8a" stroke-width="0.6"/>
<circle cx="241.40" cy="408.70" r="2.30" fill="#CB8B6F" stroke="#A66C55" stroke-width="0.4"/>
<ellipse cx="126.00" cy="436.60" rx="4.80" ry="3.70" fill="url(#gB)" opacity="0.95"/>
<ellipse cx="125.50" cy="443.40" rx="5.20" ry="3.20" fill="url(#gG)" opacity="0.95"/>
<ellipse cx="139.80" cy="437.00" rx="5.20" ry="4.20" fill="url(#gG)" opacity="0.95"/>
<ellipse cx="140.00" cy="443.90" rx="4.80" ry="3.60" fill="url(#gB)" opacity="0.95"/>
<ellipse cx="152.60" cy="438.00" rx="4.50" ry="7.20" fill="url(#gB)" opacity="0.95"/>
<ellipse cx="153.00" cy="447.20" rx="4.20" ry="3.20" fill="url(#gG)" opacity="0.95"/>
<ellipse cx="166.40" cy="437.60" rx="5.60" ry="5.80" fill="url(#gG)" opacity="0.95"/>
<ellipse cx="167.30" cy="444.20" rx="3.20" ry="3.20" fill="url(#gB)" opacity="0.95"/>
<line x1="120.00" y1="440.30" x2="147.00" y2="440.30" stroke="#46BE46" stroke-width="1.0" />
<line x1="147.00" y1="440.30" x2="153.00" y2="447.00" stroke="#46BE46" stroke-width="1.0" />
<line x1="153.00" y1="447.00" x2="163.00" y2="446.00" stroke="#46BE46" stroke-width="1.0" />
<line x1="163.00" y1="446.00" x2="168.00" y2="440.00" stroke="#46BE46" stroke-width="1.0" />
<line x1="168.00" y1="440.00" x2="161.50" y2="434.00" stroke="#46BE46" stroke-width="1.0" />
<line x1="161.50" y1="434.00" x2="153.00" y2="433.00" stroke="#46BE46" stroke-width="1.0" />
<line x1="153.00" y1="433.00" x2="147.00" y2="440.30" stroke="#46BE46" stroke-width="1.0" />
<line x1="153.00" y1="447.00" x2="152.20" y2="450.40" stroke="#46BE46" stroke-width="1.0" />
<line x1="163.00" y1="446.00" x2="167.00" y2="450.00" stroke="#46BE46" stroke-width="1.0" />
<line x1="161.50" y1="434.00" x2="165.00" y2="431.00" stroke="#46BE46" stroke-width="1.0" />
<line x1="153.00" y1="433.00" x2="151.80" y2="431.00" stroke="#46BE46" stroke-width="1.0" />
<line x1="168.00" y1="440.00" x2="173.00" y2="440.40" stroke="#46BE46" stroke-width="1.0" />
<circle cx="129.00" cy="441.00" r="1.30" fill="#CDD273" stroke="#8FA24A" stroke-width="0.4"/>
<circle cx="132.00" cy="438.50" r="1.30" fill="#CDD273" stroke="#8FA24A" stroke-width="0.4"/>
<circle cx="137.00" cy="441.00" r="1.30" fill="#CDD273" stroke="#8FA24A" stroke-width="0.4"/>
<circle cx="140.50" cy="441.00" r="1.30" fill="#CDD273" stroke="#8FA24A" stroke-width="0.4"/>
<circle cx="155.30" cy="447.00" r="1.30" fill="#CDD273" stroke="#8FA24A" stroke-width="0.4"/>
<circle cx="162.70" cy="445.80" r="1.30" fill="#CDD273" stroke="#8FA24A" stroke-width="0.4"/>
<circle cx="161.60" cy="434.30" r="1.30" fill="#CDD273" stroke="#8FA24A" stroke-width="0.4"/>
<circle cx="119.40" cy="440.00" r="1.60" fill="#ffffff" stroke="#8a8a8a" stroke-width="0.6"/>
<circle cx="151.80" cy="430.90" r="1.60" fill="#ffffff" stroke="#8a8a8a" stroke-width="0.6"/>
<circle cx="165.00" cy="430.90" r="1.60" fill="#ffffff" stroke="#8a8a8a" stroke-width="0.6"/>
<circle cx="152.20" cy="450.40" r="1.60" fill="#ffffff" stroke="#8a8a8a" stroke-width="0.6"/>
<circle cx="167.00" cy="450.00" r="1.60" fill="#ffffff" stroke="#8a8a8a" stroke-width="0.6"/>
<circle cx="173.30" cy="440.40" r="1.60" fill="#ffffff" stroke="#8a8a8a" stroke-width="0.6"/>
<circle cx="125.00" cy="442.50" r="1.60" fill="#ffffff" stroke="#8a8a8a" stroke-width="0.6"/>
<circle cx="141.00" cy="442.00" r="1.60" fill="#ffffff" stroke="#8a8a8a" stroke-width="0.6"/></g></g>
<g filter="url(#soft2)"><rect x="539" y="232.5" width="135" height="237.3" fill="url(#gradb)"/>
<rect x="539" y="232.5" width="135" height="237.3" rx="1" fill="none" stroke="#111" stroke-width="1.9"/>
<line x1="539.00" y1="311.70" x2="674.00" y2="311.70" stroke="#111" stroke-width="1.7" />
<line x1="539.00" y1="390.90" x2="674.00" y2="390.90" stroke="#111" stroke-width="1.8" />
<line x1="556.00" y1="308.80" x2="556.00" y2="311.70" stroke="#111" stroke-width="1.4" />
<line x1="572.92" y1="308.80" x2="572.92" y2="311.70" stroke="#111" stroke-width="1.4" />
<line x1="589.84" y1="308.80" x2="589.84" y2="311.70" stroke="#111" stroke-width="1.4" />
<line x1="606.76" y1="308.80" x2="606.76" y2="311.70" stroke="#111" stroke-width="1.4" />
<line x1="623.68" y1="308.80" x2="623.68" y2="311.70" stroke="#111" stroke-width="1.4" />
<line x1="640.60" y1="308.80" x2="640.60" y2="311.70" stroke="#111" stroke-width="1.4" />
<line x1="657.52" y1="308.80" x2="657.52" y2="311.70" stroke="#111" stroke-width="1.4" />
<line x1="556.00" y1="388.00" x2="556.00" y2="390.90" stroke="#111" stroke-width="1.4" />
<line x1="572.92" y1="388.00" x2="572.92" y2="390.90" stroke="#111" stroke-width="1.4" />
<line x1="589.84" y1="388.00" x2="589.84" y2="390.90" stroke="#111" stroke-width="1.4" />
<line x1="606.76" y1="388.00" x2="606.76" y2="390.90" stroke="#111" stroke-width="1.4" />
<line x1="623.68" y1="388.00" x2="623.68" y2="390.90" stroke="#111" stroke-width="1.4" />
<line x1="640.60" y1="388.00" x2="640.60" y2="390.90" stroke="#111" stroke-width="1.4" />
<line x1="657.52" y1="388.00" x2="657.52" y2="390.90" stroke="#111" stroke-width="1.4" />
<line x1="556.00" y1="466.90" x2="556.00" y2="469.80" stroke="#111" stroke-width="1.4" />
<line x1="572.92" y1="466.90" x2="572.92" y2="469.80" stroke="#111" stroke-width="1.4" />
<line x1="589.84" y1="466.90" x2="589.84" y2="469.80" stroke="#111" stroke-width="1.4" />
<line x1="606.76" y1="466.90" x2="606.76" y2="469.80" stroke="#111" stroke-width="1.4" />
<line x1="623.68" y1="466.90" x2="623.68" y2="469.80" stroke="#111" stroke-width="1.4" />
<line x1="640.60" y1="466.90" x2="640.60" y2="469.80" stroke="#111" stroke-width="1.4" />
<line x1="657.52" y1="466.90" x2="657.52" y2="469.80" stroke="#111" stroke-width="1.4" />
<text x="556.00" y="481.80" font-size="11" fill="#141414" text-anchor="middle" stroke="#141414" stroke-width="0.2">0.0</text>
<text x="589.85" y="481.80" font-size="11" fill="#141414" text-anchor="middle" stroke="#141414" stroke-width="0.2">0.2</text>
<text x="623.70" y="481.80" font-size="11" fill="#141414" text-anchor="middle" stroke="#141414" stroke-width="0.2">0.4</text>
<text x="657.55" y="481.80" font-size="11" fill="#141414" text-anchor="middle" stroke="#141414" stroke-width="0.2">0.6</text>
<text x="541.50" y="250.50" font-size="14.5" fill="#111" text-anchor="start" >b</text>
<text x="668.00" y="305.50" font-size="10" fill="#333" text-anchor="end" textLength="57.0" lengthAdjust="spacingAndGlyphs" stroke="#333" stroke-width="0.3">Li-Biph/DME</text>
<text x="667.50" y="382.80" font-size="10" fill="#333" text-anchor="end" textLength="53.0" lengthAdjust="spacingAndGlyphs" stroke="#333" stroke-width="0.3">Li-Biph/THF</text>
<text x="668.00" y="463.30" font-size="10" fill="#333" text-anchor="end" textLength="80.3" lengthAdjust="spacingAndGlyphs" stroke="#333" stroke-width="0.3">Li-Biph/2-Me-THF</text>
<text x="526.80" y="354.00" font-size="11" fill="#1c1c1c" text-anchor="middle" transform="rotate(-90 526.80 354.00)" textLength="130.6" lengthAdjust="spacingAndGlyphs" stroke="#1c1c1c" stroke-width="0.15">Normalized Current (a.u.)</text>
<path d="M556.00,297.25C556.88,296.54 558.63,294.29 561.25,293.00C563.87,291.71 567.88,290.60 571.70,289.50C575.53,288.40 580.38,287.88 584.20,286.40C588.02,284.92 591.65,283.38 594.60,280.60C597.55,277.83 599.83,273.64 601.90,269.75C603.97,265.86 605.44,260.89 607.00,257.25C608.56,253.61 609.85,250.16 611.25,247.90C612.65,245.64 614.01,244.57 615.40,243.70C616.79,242.83 617.87,242.45 619.60,242.70C621.33,242.95 623.37,244.23 625.80,245.20C628.23,246.17 630.72,247.37 634.20,248.50C637.68,249.63 642.19,250.96 646.70,252.00C651.21,253.04 658.83,254.29 661.25,254.75C659.51,255.17 654.62,256.56 650.80,257.25C646.97,257.94 642.12,258.38 638.30,258.90C634.48,259.42 631.02,259.63 627.90,260.40C624.78,261.17 622.03,261.77 619.60,263.50C617.17,265.23 615.22,267.68 613.30,270.80C611.38,273.93 609.83,278.60 608.10,282.25C606.37,285.90 604.63,289.93 602.90,292.70C601.17,295.47 599.27,297.62 597.70,298.90C596.13,300.18 595.41,300.47 593.50,300.40C591.59,300.33 589.20,299.27 586.25,298.50C583.30,297.73 579.27,296.25 575.80,295.80C572.32,295.35 568.70,295.56 565.40,295.80C562.10,296.04 557.57,297.01 556.00,297.25Z" fill="none" stroke="#3A7FC8" stroke-width="1.7" stroke-linejoin="miter" stroke-miterlimit="2.5" stroke-linecap="round" />
<path d="M560.80,377.90C561.75,376.96 564.17,374.10 566.50,372.25C568.83,370.40 571.85,368.47 574.80,366.80C577.75,365.13 581.25,364.22 584.20,362.25C587.15,360.28 590.08,357.96 592.50,355.00C594.92,352.04 596.83,348.17 598.75,344.50C600.67,340.83 602.44,336.12 604.00,333.00C605.56,329.88 606.72,327.59 608.10,325.80C609.48,324.01 610.90,322.95 612.30,322.25C613.70,321.55 614.59,321.36 616.50,321.60C618.41,321.84 620.80,322.83 623.75,323.70C626.70,324.57 630.38,325.93 634.20,326.80C638.03,327.67 642.53,328.27 646.70,328.90C650.87,329.53 657.12,330.32 659.20,330.60C658.15,331.18 656.03,333.07 652.90,334.10C649.77,335.13 644.57,336.00 640.40,336.80C636.23,337.60 631.37,338.13 627.90,338.90C624.43,339.67 622.03,340.28 619.60,341.40C617.17,342.52 615.22,343.68 613.30,345.60C611.38,347.52 609.83,349.78 608.10,352.90C606.37,356.02 604.63,360.83 602.90,364.30C601.17,367.77 599.43,371.27 597.70,373.70C595.97,376.13 594.07,377.85 592.50,378.90C590.93,379.95 590.38,380.17 588.30,380.00C586.22,379.83 582.77,378.60 580.00,377.90C577.23,377.20 574.13,376.05 571.70,375.80C569.27,375.55 567.22,376.05 565.40,376.40C563.58,376.75 561.57,377.65 560.80,377.90Z" fill="none" stroke="#E8601C" stroke-width="1.7" stroke-linejoin="miter" stroke-miterlimit="2.5" stroke-linecap="round" />
<path d="M555.40,460.20C555.85,458.82 556.78,455.55 558.10,451.90C559.42,448.25 561.38,442.99 563.30,438.30C565.22,433.61 567.68,427.92 569.60,423.75C571.52,419.58 573.07,416.43 574.80,413.30C576.53,410.18 578.43,406.97 580.00,405.00C581.57,403.03 583.08,402.27 584.20,401.50C585.32,400.73 585.67,400.33 586.70,400.40C587.73,400.47 588.39,401.30 590.40,401.90C592.41,402.50 595.97,403.42 598.75,404.00C601.53,404.58 604.60,404.98 607.10,405.40C609.60,405.82 612.64,406.32 613.75,406.50C613.16,406.95 612.01,408.23 610.20,409.20C608.39,410.17 605.50,411.33 602.90,412.30C600.30,413.27 597.03,414.07 594.60,415.00C592.17,415.93 590.03,416.78 588.30,417.90C586.57,419.02 585.58,419.85 584.20,421.70C582.82,423.55 581.57,425.88 580.00,429.00C578.43,432.12 576.53,436.93 574.80,440.40C573.07,443.87 571.52,447.20 569.60,449.80C567.68,452.40 565.67,454.27 563.30,456.00C560.93,457.73 556.72,459.50 555.40,460.20Z" fill="none" stroke="#3DB565" stroke-width="1.7" stroke-linejoin="miter" stroke-miterlimit="2.5" stroke-linecap="round" />
<line x1="604.40" y1="252.00" x2="604.40" y2="277.00" stroke="#111" stroke-width="1.5" stroke-dasharray="5,3.5"/>
<line x1="597.30" y1="336.20" x2="597.30" y2="358.00" stroke="#111" stroke-width="1.5" stroke-dasharray="5,3.5"/>
<line x1="568.50" y1="421.70" x2="568.50" y2="436.50" stroke="#111" stroke-width="1.5" stroke-dasharray="5,3.5"/></g>
<rect x="0" y="228" width="84" height="252" fill="#000"/>
<rect x="676" y="226" width="44" height="254" fill="#000"/>
</svg>
</body></html>
